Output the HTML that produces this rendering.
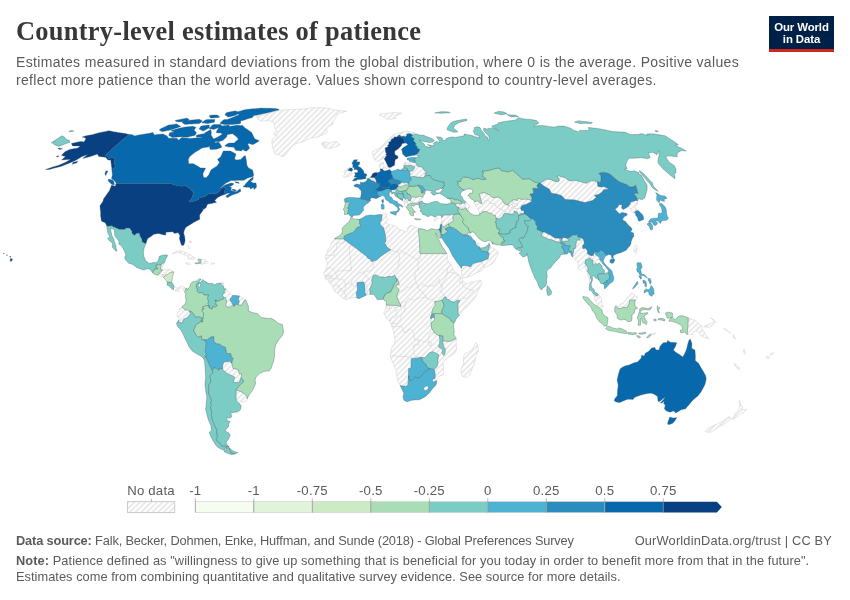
<!DOCTYPE html>
<html><head><meta charset="utf-8"><title>Country-level estimates of patience</title>
<style>
html,body{margin:0;padding:0;background:#fff;}
body{width:850px;height:600px;position:relative;overflow:hidden;font-family:"Liberation Sans",Arial,sans-serif;}
#title{position:absolute;left:16px;top:15px;font-family:"Liberation Serif","DejaVu Serif",serif;font-weight:700;font-size:26.4px;color:#373737;letter-spacing:0.29px;white-space:nowrap;line-height:32px;}
#sub{position:absolute;left:16px;top:52.5px;font-size:14px;letter-spacing:0.33px;line-height:18.2px;color:#5b5b5b;white-space:nowrap;}
#logo{position:absolute;left:769px;top:16px;width:65px;height:33px;background:#002147;border-bottom:3px solid #ce261e;color:#fff;font-weight:700;font-size:11.4px;line-height:12.3px;text-align:center;letter-spacing:-0.1px;}
#logo span{display:block;}
.ft{position:absolute;left:16px;font-size:12.8px;color:#5b5b5b;white-space:nowrap;line-height:15px;}
.ft b{font-weight:700;}
svg{position:absolute;left:0;top:0;}
svg text{font-family:"Liberation Sans",Arial,sans-serif;font-size:13.2px;letter-spacing:0.2px;fill:#5b5b5b;}
</style></head><body>
<div id="title">Country-level estimates of patience</div>
<div id="sub">Estimates measured in standard deviations from the global distribution, where 0 is the average. Positive values<br>reflect more patience than the world average. Values shown correspond to country-level averages.</div>
<div id="logo"><span style="margin-top:4.5px">Our World</span><span>in Data</span></div>
<svg width="850" height="600" viewBox="0 0 850 600">
<defs><pattern id="h" patternUnits="userSpaceOnUse" width="4" height="4" patternTransform="rotate(-45)"><rect width="4" height="4" fill="#fff"/><rect x="0" y="1.35" width="4" height="1.35" fill="#e0e0e0"/></pattern></defs>
<g fill="url(#h)" stroke="#cdcdcd" stroke-width="0.5" stroke-linejoin="round"><path d="M161.6,269.3L161.6,269.4L161.1,269.5L160.4,269.5L160.8,267.1L161.1,264.6L161.2,264.2L163.3,262.8L163.5,262.8L163.2,265.4ZM164.0,262.8L164.5,262.7L164.6,262.6L164.4,263.3L163.5,262.8Z"/><path d="M158.0,275.3L157.8,275.2L157.8,275.1L159.6,273.4L161.5,274.2L163.3,274.7L162.9,276.3L162.9,276.4L161.3,276.6Z"/><path d="M166.5,269.8L170.0,269.5L171.9,270.7L173.8,271.9L171.9,272.1L169.9,272.4L167.6,274.7L165.5,275.0L164.0,277.1L163.5,277.2L163.6,276.3L162.9,276.4L162.9,276.3L163.3,274.7L161.5,274.2L159.6,273.4L160.1,272.1L162.6,270.1L163.1,270.1Z"/><path d="M177.7,288.0L180.0,287.0L181.2,286.0L183.5,286.5L185.9,288.3L184.6,292.2L183.5,290.1L181.1,287.8L179.2,289.4L178.9,292.0L176.4,290.9L173.4,289.7L173.5,289.4L173.4,287.3L174.1,286.0L174.9,287.5Z"/><path d="M255.9,116.7L258.2,116.3L260.5,115.8L262.7,115.3L265.0,114.9L268.2,113.7L271.3,112.5L273.9,111.8L276.4,111.1L278.9,110.4L281.1,110.2L283.3,110.1L285.5,109.9L287.7,109.7L289.9,109.6L292.1,109.4L294.1,109.4L296.0,109.3L298.0,109.2L300.0,109.2L301.9,109.1L304.0,108.8L306.1,108.6L308.2,108.3L310.2,108.0L312.3,107.8L314.1,107.7L315.9,107.7L317.7,107.7L319.5,107.7L321.3,107.6L323.2,107.6L325.0,107.9L327.0,108.2L328.9,108.5L330.8,108.8L332.5,109.3L334.1,109.8L335.8,110.4L337.5,110.5L339.2,110.6L340.9,110.7L342.7,110.9L344.7,111.0L346.8,111.2L344.9,111.7L343.1,112.3L341.2,112.8L339.3,113.4L337.6,114.5L335.9,115.6L336.0,118.1L333.0,121.0L333.1,124.1L331.0,125.1L328.8,126.1L326.4,129.3L327.4,132.5L325.6,133.4L323.7,134.2L320.9,135.6L318.1,136.9L315.8,137.2L313.5,137.5L311.1,137.8L308.1,139.4L305.1,141.1L302.6,141.7L300.1,142.3L297.7,143.0L295.6,143.9L293.6,144.8L291.5,147.1L289.5,149.4L287.1,152.6L284.7,155.8L281.6,156.7L279.5,154.8L277.4,154.5L275.2,154.1L273.8,150.6L272.5,147.1L272.2,144.8L271.8,142.5L272.5,139.1L274.9,137.4L277.3,135.8L275.5,135.2L273.7,134.7L274.2,131.9L277.2,130.8L275.8,129.5L274.5,128.2L274.7,125.1L274.1,123.6L273.5,122.0L272.1,121.6L270.6,121.1L269.2,120.6L267.2,120.7L265.2,120.8L263.2,120.9L261.2,121.0L259.6,120.2L258.0,119.4L257.7,118.1L256.8,117.4Z"/><path d="M172.1,253.9L174.2,252.6L176.3,251.3L178.2,251.0L180.2,250.8L182.4,251.4L184.5,252.1L186.6,253.1L188.8,254.1L192.0,255.7L193.9,257.0L195.8,258.3L193.9,259.1L190.9,259.1L188.0,259.1L189.1,257.3L186.3,255.7L184.5,254.9L182.7,254.1L180.9,253.5L179.0,252.8L177.1,252.1L174.2,253.6Z"/><path d="M201.0,259.6L203.4,259.1L205.3,259.9L206.8,260.9L208.5,262.5L207.0,263.0L203.6,263.5L201.4,264.8L200.9,263.3Z"/><path d="M185.9,263.0L188.9,262.8L190.6,264.1L188.3,264.6L185.9,263.8Z"/><path d="M211.2,262.8L213.0,262.9L214.8,263.0L214.2,264.1L211.0,264.1Z"/><path d="M189.1,247.9L189.2,248.9L188.5,247.6L187.7,246.8L188.3,245.5ZM190.6,241.1L190.9,241.5L191.4,241.9L191.6,242.1L191.3,242.1L190.9,243.2L190.5,242.0L189.4,241.9L188.3,241.4L190.2,241.1L190.0,240.6L190.6,241.1Z"/><path d="M221.7,283.1L223.8,282.8L223.7,284.7L221.7,284.7Z"/><path d="M244.6,300.0L243.2,302.7L241.8,305.3L239.7,305.0L237.9,305.0L239.3,301.9L238.4,299.3L239.4,295.9L242.8,298.0Z"/><path d="M232.1,295.4L232.3,295.4L232.3,295.6L232.0,297.4L230.4,298.5L230.1,300.6L231.7,302.4L233.5,306.0L231.6,305.8L230.0,307.1L227.7,307.6L225.7,305.0L226.2,302.9L226.7,300.8L225.8,299.3L225.6,297.7L224.0,297.4L222.4,295.6L223.2,293.5L225.0,292.5L224.1,291.4L225.8,288.8L229.2,292.7Z"/><path d="M177.3,316.7L177.2,313.6L179.1,311.0L179.3,308.9L182.1,307.3L183.9,308.7L185.3,310.0L187.8,310.0L190.1,311.3L189.4,311.3L190.4,313.6L188.8,315.7L187.2,317.8L184.5,318.8L183.1,319.9L182.5,323.0L180.4,322.5L178.6,322.7L178.7,319.9L179.6,317.5Z"/><path d="M223.9,362.1L226.8,361.7L229.7,361.3L232.1,363.6L232.6,366.1L233.1,368.6L236.0,368.9L238.4,369.9L239.2,373.6L241.6,373.9L241.1,377.8L240.2,380.1L239.2,382.5L237.7,382.7L235.3,382.5L233.0,382.2L233.7,380.6L234.6,377.0L232.0,375.7L229.2,374.4L226.5,373.1L224.5,371.1L222.4,369.0L222.6,366.9L222.8,364.7Z"/><path d="M244.1,402.0L241.5,402.0L239.6,401.4L237.8,400.7L236.3,399.7L236.1,397.6L235.9,395.5L236.1,392.6L236.3,389.8L238.2,390.5L240.1,391.3L241.0,391.6L243.4,393.2L245.5,394.7L247.0,396.3L247.0,398.9L246.1,401.0Z"/><path d="M370.3,177.6L372.1,177.6L373.5,177.3L375.3,178.3L374.9,179.1L375.5,179.1L376.2,180.3L375.8,180.9L376.6,181.6L376.4,182.4L375.2,182.4L373.2,180.7L372.0,181.1L370.0,179.3L368.6,178.3Z"/><path d="M404.1,162.8L406.1,161.9L407.4,163.5L409.0,163.7L409.4,161.6L411.0,161.3L413.5,162.5L415.1,162.4L416.0,163.0L417.2,165.8L415.9,166.4L414.5,166.9L412.6,165.9L410.9,165.2L409.5,165.6L407.4,165.4L405.4,165.2L403.7,166.0L403.5,165.0Z"/><path d="M383.2,157.7L383.3,156.7L382.5,158.9L380.4,160.3L378.6,161.1L376.7,161.3L374.0,158.9L372.9,155.5L372.7,152.9L372.8,151.3L374.7,150.6L377.0,149.2L379.6,147.8L381.2,146.4L383.4,144.8L385.2,142.5L386.7,141.0L388.2,139.6L389.8,137.5L391.3,136.4L393.2,135.3L395.0,134.2L396.7,133.8L398.3,133.4L400.4,132.7L402.5,132.1L404.1,131.6L405.8,131.2L407.6,131.3L409.4,131.4L412.0,132.1L414.7,132.7L413.1,133.2L411.6,133.6L413.4,134.2L414.7,134.0L413.6,134.7L412.0,135.7L412.4,134.7L409.7,133.4L408.3,133.8L406.8,134.2L406.8,135.6L405.7,136.7L403.4,136.3L401.2,136.4L399.7,135.1L398.0,135.7L397.3,137.1L395.7,137.0L394.1,136.9L394.0,138.2L391.5,139.1L391.2,140.2L390.2,141.8L388.7,142.3L389.1,144.1L387.5,145.7L388.5,146.6L386.8,147.3L385.1,148.0L385.4,149.4L385.7,152.5L386.9,153.4L385.8,154.1L386.7,155.5L385.4,157.0L385.2,157.7L384.6,158.2L384.3,158.4L384.3,158.6L384.2,158.7Z"/><path d="M384.2,168.4L382.8,168.4L382.7,168.2L382.1,168.9L382.3,169.1L381.9,169.1L380.3,168.9L380.3,169.1L380.4,168.9L379.5,167.4L379.0,165.0L379.8,163.5L381.7,162.8L383.5,162.0L383.3,164.7L384.3,165.2L383.2,167.4L384.1,167.4ZM386.9,168.6L385.1,168.1L385.0,166.9L386.9,165.9L387.7,166.9Z"/><path d="M394.3,189.7L396.5,189.0L397.4,190.0L395.8,190.8L395.7,191.8L395.1,192.5L393.6,192.3L391.6,192.7L391.5,192.7L392.0,192.3L391.5,191.5L391.1,190.8L391.6,190.0Z"/><path d="M409.0,183.4L408.4,185.2L407.0,184.9L405.0,184.9L403.1,185.7L401.7,186.7L399.7,186.8L398.3,186.2L397.9,184.6L399.9,183.9L401.3,182.4L402.7,182.1L403.8,183.1L405.8,182.6L408.9,183.4L409.0,183.3Z"/><path d="M421.2,200.3L422.4,201.5L420.9,201.3L418.9,202.3L417.0,203.5L415.2,203.0L413.6,203.1L411.9,203.2L412.0,202.1L410.5,200.8L410.6,199.2L411.6,198.5L410.1,196.4L410.7,195.9L411.4,196.9L414.6,197.2L416.7,197.3L419.6,196.1L421.4,196.6L423.1,197.0L422.0,198.5Z"/><path d="M413.0,170.6L413.2,169.6L414.6,167.9L414.5,166.9L415.9,166.4L417.2,165.8L419.8,166.7L422.7,167.2L423.4,169.4L427.0,172.8L424.8,173.3L426.2,175.8L424.4,175.8L424.0,177.8L421.0,177.3L419.2,177.2L417.4,177.1L415.1,176.7L412.9,176.3L410.3,177.3L410.1,175.8L409.6,175.6L409.6,175.0L410.4,174.3L409.2,171.3L411.0,171.3Z"/><path d="M402.6,198.5L403.6,197.7L406.0,199.4L405.6,200.1L404.6,200.1L404.3,201.9L402.4,200.5L402.4,200.6L402.5,200.5L402.3,200.0L402.4,199.5Z"/><path d="M408.3,199.4L408.9,200.9L407.9,201.0L406.9,201.8L405.6,200.1L406.0,199.4L407.0,198.3Z"/><path d="M408.9,200.9L410.5,200.8L412.0,202.1L411.9,203.2L409.9,203.9L408.0,204.5L406.8,203.4L406.9,201.8L407.9,201.0Z"/><path d="M404.5,203.4L404.4,201.9L404.3,201.9L404.6,200.1L405.6,200.1L406.9,201.8L406.8,203.4L408.0,204.5L407.5,205.9L406.7,206.7L406.1,207.5L404.7,205.7Z"/><path d="M349.9,167.9L349.6,168.4L348.9,169.4L347.8,170.0L348.9,170.7L350.0,170.9L351.4,170.9L351.9,171.0L351.8,171.3L351.9,173.8L351.0,175.6L349.2,176.1L347.4,176.6L345.8,177.0L344.2,177.3L343.3,175.8L345.0,174.3L344.1,172.3L344.3,170.4L347.2,170.1L347.1,168.6L349.6,167.9Z"/><path d="M321.3,143.4L323.1,142.5L324.8,141.6L326.6,142.3L328.4,143.0L330.4,142.5L332.5,142.0L334.3,141.7L336.0,141.4L338.3,143.0L339.8,144.8L337.2,146.4L335.0,147.1L332.9,147.8L330.7,148.5L328.9,148.2L327.2,148.0L325.3,147.7L323.4,147.3L324.9,145.9L323.2,145.5L321.6,145.0L323.4,144.6L325.2,144.1L323.3,143.7Z"/><path d="M379.5,114.3L381.6,113.9L383.6,113.4L385.5,113.3L387.4,113.2L389.3,113.1L391.1,112.9L393.0,112.7L394.8,112.5L396.6,112.7L398.5,112.8L400.3,112.9L402.1,113.1L400.9,113.8L399.7,114.5L398.0,115.0L396.2,115.5L394.4,116.0L396.4,117.9L394.5,118.4L392.6,118.9L390.8,119.4L388.5,119.2L386.2,119.0L384.3,117.1L382.4,116.5L380.5,116.0Z"/><path d="M433.7,219.7L435.2,218.9L438.3,218.0L437.4,219.7L435.4,220.8L434.1,220.5Z"/><path d="M460.0,204.6L461.2,206.2L460.6,207.8L462.6,208.0L462.9,209.6L460.7,209.3L458.9,207.5L456.3,206.5L455.6,203.9L458.5,203.4Z"/><path d="M468.3,204.9L470.2,205.7L468.6,208.5L468.0,209.8L468.2,210.7L466.1,209.8L466.5,208.3L465.2,207.5L462.9,209.6L462.6,208.0L460.6,207.8L461.2,206.2L460.0,204.6L458.5,203.4L461.8,204.0L462.1,203.4L460.9,202.6L461.1,201.8L464.5,203.6L465.8,201.9L466.9,203.1Z"/><path d="M441.5,221.3L441.9,220.6L442.8,220.8L443.3,221.8L441.9,224.2L441.4,224.3L440.4,224.7L441.0,222.6Z"/><path d="M441.3,217.4L442.9,216.5L442.5,215.0L445.5,215.0L447.7,215.0L449.8,215.0L452.3,214.6L454.9,214.3L452.8,216.1L453.0,218.2L453.2,220.2L452.9,221.3L450.6,222.6L448.4,223.9L446.4,225.3L444.4,226.8L441.6,225.7L441.9,224.2L443.3,221.8L442.8,220.8L441.9,220.6L441.2,218.4Z"/><path d="M471.1,236.7L469.6,236.5L469.0,235.4L466.8,235.1L468.4,232.5L469.8,232.8L470.0,234.3Z"/><path d="M478.1,242.9L479.2,245.0L479.4,246.8L478.5,246.8L477.5,246.3L477.3,244.5Z"/><path d="M498.3,252.3L497.7,255.2L495.9,257.8L494.6,261.4L491.9,264.1L489.3,265.4L486.6,266.7L484.4,267.6L482.9,264.5L481.5,261.4L484.8,260.1L488.1,258.8L488.6,256.2L489.2,253.6L487.9,251.8L488.9,248.4L489.4,248.1L488.7,246.1L490.1,246.1L490.1,245.9L490.9,247.4L493.1,248.4L495.3,249.5ZM496.6,244.8L495.7,244.8L493.0,244.2L491.8,242.5L494.2,243.7ZM489.0,243.6L489.6,242.4L489.8,244.2L489.2,244.0Z"/><path d="M479.9,271.4L477.8,272.3L475.7,273.2L473.9,274.4L472.1,275.5L469.3,276.6L466.5,277.6L463.1,277.9L462.3,276.3L461.5,272.4L461.3,270.3L461.0,268.2L461.9,267.4L462.2,265.4L464.3,265.5L466.3,265.6L468.4,266.2L470.5,266.8L473.0,263.5L475.8,262.8L478.6,262.1L481.5,261.4L482.9,264.5L484.4,267.6L482.6,270.3Z"/><path d="M558.4,242.1L555.2,241.6L552.2,239.8L549.2,239.5L546.5,238.2L543.8,236.9L541.4,235.9L542.6,232.2L544.8,232.0L547.4,233.8L550.1,234.8L552.6,236.4L554.9,238.0L556.9,238.0L559.7,238.2L560.4,242.1Z"/><path d="M566.7,241.1L564.1,241.4L562.3,241.1L561.8,239.8L562.8,237.5L564.7,237.7L567.7,238.5L569.1,241.0Z"/><path d="M546.5,179.1L548.9,179.3L551.3,179.6L553.6,181.1L556.0,181.4L558.5,181.7L559.5,179.8L557.3,176.1L558.3,175.8L560.9,176.5L563.5,177.2L566.0,177.8L567.1,179.6L570.8,180.9L573.0,180.6L575.1,180.3L577.3,180.9L579.5,181.4L582.9,182.3L586.2,183.3L587.9,182.4L589.6,181.5L591.2,180.6L594.2,181.0L597.2,181.5L597.5,184.1L598.0,186.4L600.0,186.7L602.0,186.9L603.9,186.4L608.0,188.5L608.4,189.5L606.0,189.6L603.6,189.7L602.1,192.0L600.3,193.3L598.5,194.5L596.5,194.9L594.4,195.4L596.4,197.2L594.6,198.8L592.7,200.5L590.0,201.2L587.4,201.9L584.7,202.6L581.3,201.7L577.9,200.8L574.6,199.9L571.5,199.8L568.4,199.7L565.3,199.6L563.3,197.6L561.4,195.6L559.1,194.9L556.8,194.1L554.0,193.7L551.3,193.3L550.2,191.1L549.1,189.0L546.4,187.4L543.7,185.9L540.1,183.1L541.6,182.2L543.1,181.4L544.8,180.2Z"/><path d="M637.8,204.6L636.6,205.7L635.4,206.7L634.6,207.2L635.2,208.8L638.1,210.4L635.7,211.1L635.4,212.2L634.3,212.7L631.7,212.2L630.8,211.7L631.3,210.1L629.7,208.0L627.6,207.0L628.8,205.7L629.9,204.4L630.5,202.1L632.7,201.5L634.1,201.0L635.5,200.5L637.4,200.5L637.7,200.8L637.6,204.1Z"/><path d="M478.0,209.3L476.1,206.7L475.1,204.5L474.0,202.2L474.6,202.1L474.6,201.9L477.1,200.8L478.9,201.5L480.5,203.4L481.7,203.4L483.8,203.4L485.1,200.3L487.2,200.3L489.5,201.0L490.3,203.1L492.2,203.4L494.2,203.6L496.3,206.7L498.8,208.1L501.3,209.6L503.7,210.7L506.2,211.9L506.6,213.6L504.8,213.2L503.2,214.8L502.9,216.3L500.1,218.4L498.7,218.9L496.2,218.2L495.4,215.4L493.9,215.4L491.0,213.2L489.0,213.0L486.1,211.4L484.5,211.7L482.3,211.7L481.4,213.5L479.5,213.6L479.2,211.9Z"/><path d="M508.3,208.0L509.1,206.2L510.2,204.9L512.3,204.1L513.3,206.2L511.1,208.0L513.6,207.8L516.6,208.5L518.5,208.3L520.5,208.1L521.4,210.4L524.0,210.6L524.0,213.5L521.1,213.3L518.7,215.1L518.4,215.2L518.4,215.3L517.2,212.2L514.0,210.9L514.4,213.0L513.0,214.1L511.2,214.1L509.5,214.0L510.1,211.4Z"/><path d="M513.6,207.8L511.1,208.0L513.3,206.2L515.7,206.2L518.0,204.6L516.0,203.9L513.8,203.6L512.4,200.9L512.3,200.3L513.8,199.5L515.7,200.0L517.7,200.5L517.1,199.0L518.6,198.5L521.9,199.5L524.5,199.1L526.9,199.3L529.2,199.5L532.0,201.4L530.4,202.3L528.8,203.1L527.4,203.7L525.9,204.4L524.0,204.9L522.0,205.4L520.5,208.1L518.5,208.3L516.6,208.5Z"/><path d="M509.1,213.9L506.6,213.6L506.2,211.9L503.7,210.7L501.3,209.6L498.8,208.1L496.3,206.7L494.2,203.6L492.2,203.4L490.3,203.1L489.5,201.0L487.2,200.3L485.1,200.3L483.8,203.4L481.7,203.4L480.9,200.2L480.1,197.0L479.2,193.8L481.6,193.1L484.0,192.4L487.1,193.9L490.2,195.4L492.7,197.7L495.7,197.4L498.6,197.2L501.7,199.0L503.0,201.4L504.4,203.7L506.6,204.5L508.8,205.2L507.4,204.6L509.1,203.4L511.4,201.3L512.4,200.9L513.8,203.6L516.0,203.9L518.0,204.6L515.7,206.2L513.3,206.2L512.3,204.1L510.2,204.9L509.1,206.2L508.3,208.0L510.1,211.4L509.6,213.7Z"/><path d="M593.3,255.7L593.8,252.6L595.8,254.7L598.4,256.8L600.1,257.8L599.3,259.6L602.1,261.7L602.1,263.0L605.8,266.7L608.4,270.3L608.9,272.7L606.6,272.9L605.6,273.6L603.8,273.7L604.4,273.4L604.2,270.3L602.1,268.2L601.5,265.4L599.4,263.3L597.2,264.2L595.3,263.5L593.3,265.4L592.9,264.1L593.0,260.1L591.2,260.1L590.0,257.9L591.1,257.8L592.1,255.7L591.9,254.8Z"/><path d="M589.2,278.7L588.4,276.6L587.6,274.5L586.6,271.1L585.7,268.0L584.0,266.7L582.7,267.7L580.7,269.8L578.4,269.5L578.1,269.3L578.3,265.4L577.5,262.2L573.8,258.6L572.2,257.0L572.9,255.4L572.4,253.7L573.5,253.1L573.8,250.8L573.2,248.4L575.0,248.7L576.0,246.6L575.6,245.3L576.3,243.2L576.1,241.4L578.0,239.8L580.2,240.3L579.9,237.3L583.5,239.3L584.0,241.4L584.4,243.5L582.6,245.8L582.9,248.7L585.5,248.1L587.6,251.0L587.3,253.4L589.5,254.9L592.1,255.7L591.1,257.8L590.0,257.9L588.7,258.6L587.5,259.4L585.5,259.9L585.5,262.8L584.6,262.8L586.1,265.0L587.7,267.2L588.1,269.0L587.5,271.4L590.0,275.0L590.5,278.1L591.6,280.2L590.1,283.4L589.7,284.6L589.5,281.7Z"/><path d="M598.8,294.8L601.5,298.0L601.6,301.1L601.9,304.0L603.6,307.3L602.7,307.6L601.8,307.3L599.0,305.3L596.8,303.2L595.3,300.0L594.3,296.9L593.7,294.2L595.6,294.6L596.1,296.1L597.7,295.9L598.3,294.7Z"/><path d="M635.8,245.0L637.0,246.3L636.9,248.4L636.7,250.5L636.0,253.9L633.9,251.0L633.8,248.4L634.8,245.8Z"/><path d="M619.7,306.6L620.1,304.2L621.9,303.4L623.8,302.7L625.9,299.0L629.2,296.4L631.8,292.7L634.2,294.3L634.3,295.6L637.8,297.2L635.6,299.8L635.5,300.0L634.2,300.0L631.9,300.0L629.6,300.0L629.5,302.7L628.4,304.5L627.6,307.1L625.5,307.6L622.7,307.1L621.1,308.4L618.1,308.7L616.0,306.3L616.0,305.8L617.9,306.2Z"/><path d="M699.0,323.8L700.9,325.2L702.8,326.6L702.0,328.5L704.0,331.9L705.8,334.7L707.5,337.6L709.0,338.6L706.8,338.1L704.5,337.6L702.7,336.7L700.8,335.8L698.9,331.9L695.6,330.8L692.7,332.6L692.7,334.5L689.9,334.6L687.2,334.7L687.5,331.3L687.7,328.0L688.0,324.6L688.1,321.2L688.3,317.8L690.9,318.8L693.6,319.9L696.2,320.9ZM713.9,322.0L714.0,323.8L712.0,325.6L708.5,327.4L706.6,327.3L704.8,327.2L704.7,325.9L706.9,325.0L709.2,324.0L711.5,323.0ZM715.9,322.7L715.0,322.2L712.4,319.3L710.6,317.8L712.4,319.0L714.2,320.1Z"/><path d="M650.3,334.2L653.1,333.6L655.9,332.9L655.1,333.7L652.9,334.6L650.6,335.5Z"/><path d="M735.6,338.9L733.4,337.6L733.2,336.0L734.1,336.3ZM733.6,336.0L733.2,335.9L733.1,334.6ZM727.7,330.8L730.5,333.2L728.8,331.9L725.5,330.0L723.4,328.2L725.1,329.0Z"/><path d="M743.7,349.3L744.9,350.1L744.7,352.2L745.5,353.8L744.6,354.0L743.5,351.4Z"/><path d="M734.6,363.4L737.5,365.8L740.0,368.9L738.6,369.2L736.0,367.1L734.4,364.5Z"/><path d="M769.2,356.6L769.0,358.5L766.2,358.5L766.5,356.4ZM773.6,352.7L773.0,354.3L770.3,355.1L770.6,353.5Z"/><path d="M729.0,418.4L731.4,418.1L730.0,419.9L725.4,423.0L722.9,425.1L718.8,426.4L714.6,430.2L710.2,432.3L707.7,432.3L706.5,431.8L705.3,431.2L706.5,429.5L712.1,426.1L715.2,424.8L718.3,423.5L723.1,421.0L726.9,417.9L729.3,416.6ZM740.4,402.3L741.0,404.9L741.6,406.4L742.7,406.7L741.8,408.8L744.3,409.8L746.8,409.3L743.4,412.7L740.4,414.0L738.4,416.1L732.7,419.4L732.0,418.6L734.8,416.1L734.0,414.0L736.5,412.4L739.2,408.8L739.6,406.2L739.0,402.8L739.6,400.7Z"/><path d="M432.5,317.1L433.8,317.3L434.5,319.6L432.9,321.7L431.9,322.6L431.0,322.5L430.8,319.6L430.4,318.3L431.8,318.6Z"/><path d="M427.7,389.2L425.8,390.8L424.1,390.0L423.4,388.2L425.1,386.4L427.1,385.6L428.7,387.7Z"/><path d="M433.4,382.2L432.4,380.6L433.4,378.3L435.0,378.5L435.2,380.9Z"/><path d="M476.4,342.3L477.4,344.9L478.2,347.5L478.7,351.4L477.0,352.7L476.1,356.6L475.3,359.9L474.5,363.2L473.1,366.4L471.7,369.7L470.6,372.7L469.5,375.7L467.5,376.6L465.5,377.5L462.2,376.2L461.2,372.3L461.2,368.4L462.5,366.2L463.8,363.9L463.6,361.6L463.4,359.2L463.9,356.6L464.4,354.0L466.4,353.1L468.4,352.2L472.0,349.6L474.0,346.2L475.2,343.6Z"/><path d="M433.6,313.9L431.8,314.5L433.9,313.6ZM387.3,214.5L385.8,215.3L386.5,216.1L386.8,217.6L387.7,219.2L387.1,220.5L385.6,222.6L387.9,224.4L388.8,224.7L390.6,224.9L392.5,225.2L394.7,225.8L396.9,226.5L398.2,229.1L400.2,229.8L402.2,230.4L405.6,232.0L407.7,230.7L407.7,227.3L410.7,225.2L413.1,225.5L414.5,227.0L416.3,227.3L418.8,228.6L418.2,232.2L419.0,234.6L419.2,238.4L419.5,242.2L419.7,246.0L419.8,249.8L420.0,253.6L423.3,253.6L426.7,253.6L430.0,253.6L433.4,253.6L436.7,253.6L440.1,253.6L443.5,253.6L446.8,253.6L447.3,256.8L447.8,259.9L448.7,262.8L451.0,264.1L452.3,267.2L453.6,270.3L455.1,271.9L457.6,273.2L461.2,277.1L462.2,277.9L462.8,280.7L462.5,281.0L464.6,282.4L466.8,283.9L469.0,283.0L471.3,282.1L473.6,281.8L475.8,281.5L477.9,280.7L479.9,280.0L481.0,280.2L481.4,283.9L480.2,286.7L478.4,290.1L477.4,292.7L476.3,295.4L474.1,299.3L471.0,302.5L467.9,305.8L465.0,308.4L461.5,312.0L459.4,315.4L458.0,313.3L458.1,311.0L458.0,307.3L458.0,303.7L460.0,300.7L457.5,300.0L454.5,302.1L451.3,301.6L448.5,299.5L446.2,299.0L446.2,297.2L444.8,296.9L441.8,300.0L439.6,300.8L437.3,301.6L435.0,301.1L434.5,301.9L435.4,305.3L433.8,307.1L432.5,309.4L431.8,312.6L431.8,314.5L431.1,315.2L430.6,317.0L430.4,318.3L430.8,319.6L431.0,322.5L431.3,325.2L431.6,328.0L432.9,330.2L434.2,332.4L437.0,334.7L439.1,335.5L439.9,339.2L439.7,341.4L439.6,343.6L438.3,346.5L439.4,347.5L441.9,348.6L442.5,350.9L441.7,352.7L443.9,355.6L445.1,352.7L445.3,349.1L443.4,346.2L442.8,342.3L442.8,341.0L445.6,341.0L447.5,341.3L449.5,341.5L451.8,340.5L454.0,339.4L456.2,338.4L456.2,341.6L456.2,344.9L456.5,347.1L456.7,349.3L454.7,353.3L451.1,355.5L447.6,357.7L445.2,360.3L442.6,362.6L443.3,365.8L443.7,368.4L443.5,370.9L443.4,373.3L442.8,374.9L440.7,375.8L438.7,376.7L436.5,378.8L437.0,381.2L435.2,380.9L435.0,378.5L435.1,376.5L435.2,374.4L434.7,371.9L434.1,369.4L437.0,366.6L438.0,363.2L437.7,360.3L438.6,356.6L438.5,354.6L436.7,353.6L434.9,352.7L432.9,351.7L429.4,352.7L427.2,355.3L424.9,357.8L423.0,357.6L421.1,357.4L419.2,357.7L416.7,358.2L414.0,358.5L411.3,358.7L411.2,361.9L411.1,365.2L411.0,368.4L408.7,368.4L408.6,372.0L408.5,375.7L408.3,378.8L408.2,381.9L408.0,385.1L405.8,386.4L404.0,386.1L402.2,385.9L400.2,385.6L398.9,383.0L397.5,380.4L396.9,377.0L396.2,373.6L396.2,370.7L395.1,368.0L393.9,365.2L392.4,361.6L390.8,357.9L390.4,356.1L390.7,353.8L391.0,351.4L391.6,348.8L392.2,346.2L394.3,343.9L394.7,341.8L395.2,339.7L394.6,336.8L393.9,334.0L393.5,331.6L393.0,329.3L391.7,326.6L391.7,325.3L390.8,323.0L389.1,321.2L385.7,317.3L384.3,313.6L383.6,312.8L385.3,310.0L385.7,308.4L386.2,305.0L389.6,305.3L391.9,305.3L394.2,305.3L397.0,305.4L398.8,306.0L400.7,306.6L400.7,305.0L399.4,302.5L398.1,300.0L397.0,297.2L397.2,294.3L399.0,290.9L398.5,289.1L395.7,286.0L396.2,284.9L399.1,284.9L398.7,282.3L397.7,279.2L396.1,278.4L395.8,276.8L394.7,275.3L391.7,276.8L389.9,276.6L388.1,276.3L385.3,277.5L381.9,277.1L379.1,276.8L375.9,274.7L373.0,275.8L372.1,278.4L371.8,280.5L372.3,283.1L371.1,286.0L369.8,288.8L370.0,292.7L369.8,294.3L367.3,294.8L366.4,295.1L365.0,293.0L364.7,291.7L365.2,289.4L364.5,288.0L364.7,284.9L363.6,282.1L362.5,282.1L359.7,282.3L357.0,282.6L357.2,286.0L357.6,289.6L356.2,293.3L356.9,296.4L356.5,297.7L354.4,297.2L352.1,297.8L349.8,298.5L346.3,299.5L342.9,298.0L340.8,296.3L338.8,294.6L337.2,293.0L334.9,291.7L333.3,288.8L333.1,287.5L332.2,286.2L330.4,283.9L329.2,282.3L327.9,280.0L325.4,278.9L325.2,276.8L324.4,274.7L323.7,272.7L326.0,269.3L326.6,266.5L327.3,263.8L326.2,260.1L325.2,256.8L327.1,252.8L327.9,249.2L330.2,246.6L331.2,242.9L333.7,240.3L334.7,238.8L334.6,238.8L337.8,238.8L341.0,238.8L344.2,238.8L344.2,239.8L347.1,241.8L349.9,243.8L352.8,245.8L356.2,248.3L359.5,250.9L362.9,253.4L366.3,256.0L367.7,258.1L370.8,259.4L371.1,261.4L373.2,261.1L375.0,260.6L376.7,260.1L378.6,258.3L380.5,256.5L383.9,254.2L387.2,252.0L390.6,249.7L388.6,248.3L386.7,246.8L385.7,244.8L384.6,242.7L385.7,241.9L385.7,239.3L385.6,236.7L385.1,234.4L384.6,232.1L384.0,229.8L383.4,227.5L381.8,226.2L380.2,224.2L380.0,222.3L381.6,220.5L381.6,218.9L381.9,216.9L382.1,214.8L384.7,213.7Z"/></g>
<g fill="none" stroke="#cdcdcd" stroke-width="0.5" stroke-linejoin="round"><path d="M344.2,238.8L341.0,238.8L337.8,238.8L334.6,238.8"/><path d="M344.2,239.8L344.1,243.2L341.7,243.2L339.2,243.2L336.8,243.2L336.7,246.5L336.6,249.8L334.3,251.0L334.2,253.2L334.0,255.4L331.1,255.4L328.2,255.4L325.2,255.4"/><path d="M352.8,245.8L351.0,245.9L349.1,245.9L349.5,249.7L349.8,253.4L350.1,257.2L350.4,260.9L350.8,264.7L351.1,268.4L351.5,268.7L351.1,270.6L348.0,270.6L344.9,270.6L341.8,270.6L340.6,271.1L337.7,270.8L336.7,272.4L335.8,272.9"/><path d="M335.8,272.9L334.4,271.1L333.1,269.3L331.5,268.5L330.4,267.7L328.1,268.2L327.0,268.0L326.0,269.3"/><path d="M335.8,272.9L336.0,274.5L337.3,276.8L337.3,278.7"/><path d="M337.3,278.7L335.0,278.9L332.3,278.1L330.2,278.1L328.1,278.1L325.4,278.9"/><path d="M325.2,275.5L327.2,275.3L329.1,275.0L332.1,275.8L329.3,276.6L327.3,276.7L325.2,276.8"/><path d="M332.3,278.1L332.2,280.5L329.9,281.0L329.2,282.3"/><path d="M337.3,278.7L340.2,280.2L342.3,278.9L344.4,281.3L345.3,284.4"/><path d="M333.1,287.5L335.2,285.3L338.1,284.9L339.3,286.7L340.0,289.1L337.2,293.0"/><path d="M340.0,289.1L342.0,288.8L342.0,291.4L344.3,290.9L345.7,288.6L345.5,286.5L345.3,284.4"/><path d="M344.3,290.9L344.3,293.0L346.1,296.1L346.3,299.5"/><path d="M345.3,284.4L347.3,284.0L349.4,283.6L351.0,283.9L353.7,286.0L357.2,286.0"/><path d="M363.6,282.1L365.7,282.3L365.4,284.1L366.8,286.7L367.0,289.9L367.3,293.0L367.3,294.8"/><path d="M365.7,282.3L366.8,281.0L368.6,280.0L369.1,279.2L371.8,280.5"/><path d="M351.0,283.9L351.7,281.3L353.5,278.4L356.5,275.8L359.0,273.2L362.5,271.9L364.1,272.1L364.5,274.5L365.9,276.3L368.6,278.1L369.1,279.2"/><path d="M364.1,272.1L366.8,271.1L369.2,270.8L371.6,270.6L373.2,267.2L373.2,264.1L373.2,261.1"/><path d="M394.7,275.3L394.4,273.4L396.6,270.2L398.9,266.9L398.3,264.3L399.0,261.1L399.6,257.8L398.5,254.4L397.4,251.0L395.6,252.1L393.1,250.9L390.6,249.7"/><path d="M384.6,232.1L386.1,230.7L386.3,228.3L388.8,226.5L388.8,224.7"/><path d="M420.0,253.6L420.1,256.2L420.2,258.8L417.9,258.8L418.0,260.1L414.9,258.4L411.8,256.7L408.7,255.0L405.7,253.3L402.6,251.6L399.6,249.8L397.4,251.0"/><path d="M418.0,260.1L418.1,263.4L418.2,266.8L418.3,270.1L415.8,270.6L415.2,273.3L414.6,276.1L415.3,279.2L416.1,282.4"/><path d="M394.7,275.3L395.8,276.8L396.1,278.4"/><path d="M399.0,290.9L402.0,291.2L404.9,290.1L407.2,287.5L410.2,287.3L413.3,283.6L416.1,282.4L417.7,285.2L417.5,288.0L419.4,289.4L421.3,290.7L423.9,294.0L426.6,297.4"/><path d="M426.6,297.4L424.2,297.6L421.8,297.7L418.9,298.2L416.1,298.7L415.2,300.3L413.0,299.9L410.8,299.5L408.5,298.0L406.4,301.9L404.1,301.9L401.8,301.9L400.9,305.3L400.7,306.6"/><path d="M406.4,301.9L405.1,305.0L404.8,307.6L404.6,310.2L403.9,312.8L401.4,315.4L400.8,317.8L400.2,320.1L398.6,322.2L396.7,323.8L393.7,323.0L393.1,322.5L391.2,324.0"/><path d="M393.1,322.5L392.4,324.6L391.7,326.1"/><path d="M394.2,305.3L394.2,307.6L396.3,307.6L397.0,309.4L395.6,311.0L397.0,312.6L396.8,316.0L395.6,317.3L392.4,317.0L390.3,318.3L391.0,320.4L389.1,321.2"/><path d="M389.6,305.3L389.6,308.4L387.7,308.4L385.7,308.4"/><path d="M417.5,288.0L420.5,285.4L422.7,283.9L424.9,286.2L427.8,286.5L431.3,285.4L434.2,285.7L436.0,283.1L437.8,280.5L439.6,279.2L439.7,283.1L441.6,286.2L441.9,288.6"/><path d="M441.9,288.6L442.1,286.0L442.2,283.4L444.0,280.7L445.7,278.1L446.3,275.9L446.9,273.7L447.3,271.1L447.6,268.5L449.3,266.3L451.0,264.1"/><path d="M446.9,273.7L450.1,272.1L452.8,272.9L454.9,273.6L457.0,274.2L458.8,276.3L460.6,278.4L462.2,277.9"/><path d="M460.6,278.4L459.4,282.3L461.9,282.4L462.7,281.1"/><path d="M461.9,282.4L463.4,286.2L464.8,287.7L468.2,288.9L471.5,290.1L473.8,290.1L471.6,292.8L469.4,295.4L467.1,298.1L463.9,298.2L462.1,299.1L460.3,300.0L460.0,300.7"/><path d="M441.9,288.6L439.4,290.7L441.4,292.1L443.4,293.5L444.8,296.9"/><path d="M426.6,297.4L429.0,299.8L431.9,299.0L434.5,301.9"/><path d="M431.0,322.5L431.3,325.2L431.6,328.0L432.9,330.2L434.2,332.4"/><path d="M434.2,332.4L432.1,332.8L430.0,333.2L428.8,335.3L428.7,338.5L428.6,341.8L431.8,342.8L431.7,345.9L429.9,345.9L428.6,343.6L425.9,341.3L423.1,342.0L421.8,340.5L419.7,340.7L418.4,339.4"/><path d="M418.4,339.4L416.5,339.8L414.7,340.2L414.1,336.8L413.9,334.3L413.7,331.9L410.7,329.3L408.4,329.3L407.2,331.9L403.8,332.1L402.8,329.3L401.8,326.4L399.3,326.4L396.9,326.4L394.4,326.4L391.9,326.6"/><path d="M418.4,339.4L418.6,339.7L418.5,342.3L418.5,344.9L416.2,344.9L413.9,344.9L413.8,347.7L413.8,350.5L413.7,353.3L416.8,356.9L418.6,356.6L421.1,357.4"/><path d="M390.4,356.1L392.4,355.7L394.3,355.3L395.4,356.4L398.8,356.4L402.1,356.4L405.4,356.4L408.8,357.0L412.2,357.7L414.5,357.3L416.8,356.9"/><path d="M432.9,351.7L432.5,350.1L434.8,349.3L437.1,348.4L439.4,347.5"/><path d="M442.8,341.0L445.6,341.0L447.5,341.3L449.5,341.5L451.8,340.5L454.0,339.4L456.2,338.4"/><path d="M408.0,385.1L408.2,381.9L408.3,378.8L408.5,375.7"/><path d="M434.1,369.4L434.7,371.9L435.2,374.4L435.1,376.5L435.0,378.5"/></g>
<g stroke="#3b5566" stroke-opacity="0.75" stroke-width="0.45" stroke-linejoin="round"><path fill="#084081" d="M218.0,197.2L215.7,199.5L214.7,200.8L216.4,202.1L216.2,202.6L214.0,202.8L211.8,203.4L209.8,203.7L207.9,204.1L207.0,205.2L206.2,207.5L203.7,209.6L202.8,208.3L203.0,210.4L201.7,212.2L199.9,214.5L199.6,215.6L199.8,219.2L197.3,220.5L193.5,222.6L190.9,224.2L188.3,225.7L185.7,227.5L184.0,230.9L183.7,233.3L184.7,236.7L185.1,240.6L184.4,243.7L183.5,245.3L181.8,245.5L180.7,242.9L180.1,240.8L179.4,238.8L179.9,235.4L178.3,232.8L177.2,232.8L174.8,233.5L172.5,231.7L169.2,232.0L165.8,232.2L165.8,235.1L162.9,234.8L160.9,234.1L157.7,233.5L155.7,233.9L153.8,234.3L151.6,235.9L147.7,238.5L146.8,240.8L146.0,243.2L145.9,243.4L145.5,243.5L143.8,242.8L142.2,242.1L141.9,239.3L140.3,236.7L139.2,233.3L136.2,233.5L134.7,235.4L132.2,233.8L131.8,231.2L129.5,228.1L127.6,228.1L125.7,228.1L125.3,229.4L122.2,229.4L119.2,229.4L116.7,228.3L114.3,227.3L111.9,226.2L112.3,225.7L109.5,226.0L106.8,226.2L106.8,225.7L105.2,222.8L103.3,221.9L101.4,221.0L101.0,218.3L100.6,215.6L100.7,212.4L100.4,210.2L100.1,208.0L100.0,205.7L101.4,203.6L102.9,201.5L103.5,199.0L105.5,196.2L107.4,193.5L109.4,190.8L110.5,187.9L111.5,185.2L113.4,185.7L115.3,186.2L116.0,183.6L118.9,183.6L121.9,183.6L124.8,183.6L127.7,183.6L130.7,183.6L133.6,183.6L136.6,183.6L139.5,183.6L142.5,183.6L145.4,183.6L148.4,183.6L151.3,183.6L154.3,183.6L157.2,183.6L160.2,183.6L163.1,183.6L166.0,183.6L169.0,183.6L171.9,183.6L172.8,184.4L175.1,185.0L177.4,185.7L179.8,185.9L182.2,186.2L184.8,185.4L186.7,186.6L188.6,187.8L190.5,189.0L190.9,190.0L192.2,191.3L193.6,193.1L192.5,196.0L191.5,199.0L189.2,201.0L190.0,202.3L192.8,201.4L195.6,200.4L198.4,199.5L198.6,198.2L201.7,197.3L204.7,196.4L208.7,193.8L211.2,193.8L213.6,193.8L216.0,193.8L217.8,192.8L219.3,191.3L220.6,189.5L222.9,187.6L224.6,187.8L225.4,188.5L224.2,192.0L224.7,193.1L225.1,194.3L221.6,195.6ZM226.8,195.6L226.4,196.8L226.1,196.4Z"/><path fill="#084081" d="M72.3,164.2L73.0,162.3L75.4,161.8L77.8,161.3L76.8,162.8L74.5,163.5ZM56.4,156.0L59.1,156.0L57.2,157.0ZM129.1,134.5L125.5,137.4L121.9,140.4L118.4,143.4L115.0,146.4L111.6,149.5L108.2,152.6L104.9,155.8L106.4,156.1L107.9,156.5L108.2,158.9L111.3,157.7L114.5,157.2L114.5,160.1L114.0,163.7L114.8,165.0L115.6,166.2L113.3,168.6L111.9,169.4L111.7,167.4L111.4,165.6L111.2,163.7L111.0,161.9L110.8,160.1L108.0,160.1L106.9,158.7L105.8,157.2L103.4,157.0L101.1,156.7L98.7,156.5L98.1,155.3L97.5,154.1L94.0,155.3L90.4,156.5L86.6,157.5L82.8,158.4L85.2,156.5L87.7,154.6L84.9,155.6L82.1,156.5L76.3,160.1L72.0,161.9L67.7,163.7L64.5,165.0L61.3,166.2L57.8,167.2L54.4,168.1L51.8,168.8L49.3,169.4L47.4,169.5L45.5,169.6L49.2,168.3L52.8,166.9L55.5,166.2L58.2,165.4L61.7,164.0L65.2,162.5L70.3,159.6L67.5,159.6L64.6,159.7L61.6,159.9L65.5,156.5L63.5,155.9L61.5,155.3L64.9,151.8L69.7,149.4L72.3,149.0L74.8,148.6L77.4,148.2L80.3,145.9L78.6,145.9L76.8,145.9L74.7,145.9L72.6,145.9L72.0,144.7L71.4,143.4L74.7,142.7L77.9,142.0L81.1,141.4L82.4,141.7L83.7,142.0L85.2,140.2L85.8,138.0L84.0,137.5L82.3,137.1L85.2,136.0L88.7,135.3L92.2,134.7L96.2,133.6L100.3,132.5L103.1,131.9L105.8,131.4L108.5,130.8L110.5,131.1L112.4,131.5L114.4,131.9L116.1,132.1L117.9,132.4L119.7,132.7L121.6,133.0L123.4,133.3L125.2,133.6L127.1,134.0ZM58.1,148.7L58.7,148.0L60.6,148.4L62.6,148.7L59.9,149.4Z"/><path fill="#084081" d="M10.2,260.4L10.7,258.3L12.7,259.6L10.8,261.7ZM9.6,256.2L11.1,256.8L10.1,257.3ZM6.6,254.7L7.6,255.2L6.6,255.4ZM3.6,253.1L4.4,253.4L3.6,253.9Z"/><path fill="#7bccc4" d="M144.4,247.1L143.8,249.7L143.3,252.3L143.8,256.2L144.8,258.6L145.8,260.9L148.1,262.5L149.1,263.5L151.5,263.0L153.8,262.5L156.0,262.8L158.1,260.7L158.8,258.4L159.4,256.2L161.6,255.6L163.9,254.9L167.2,254.9L167.6,255.7L165.5,259.4L164.5,262.7L164.0,262.8L163.5,262.8L163.3,262.8L161.2,264.2L161.1,264.6L159.0,264.6L156.9,264.6L156.7,266.0L155.8,266.0L157.8,268.2L157.7,269.0L154.8,269.0L153.4,271.4L153.0,273.0L151.4,271.1L149.7,269.3L147.3,268.7L143.7,270.1L141.5,269.3L139.4,268.5L136.3,267.2L134.2,265.6L132.0,264.1L128.7,263.3L125.8,260.1L124.6,257.8L125.9,254.9L125.1,252.7L124.2,250.5L122.8,248.1L121.5,245.8L118.8,244.0L119.1,241.4L116.6,238.0L114.7,235.4L114.6,232.8L114.5,230.1L112.9,229.1L111.2,228.1L110.7,230.1L111.2,232.8L111.8,235.4L113.3,238.0L114.5,241.9L115.9,245.8L115.9,247.9L117.2,250.5L116.0,251.3L114.1,249.2L112.3,247.1L112.7,243.2L111.0,241.9L109.3,240.6L107.6,238.5L109.9,236.7L107.7,232.8L107.3,230.5L107.0,228.3L106.8,226.2L109.5,226.0L112.3,225.7L111.9,226.2L114.3,227.3L116.7,228.3L119.2,229.4L122.2,229.4L125.3,229.4L125.7,228.1L127.6,228.1L129.5,228.1L131.8,231.2L132.2,233.8L134.7,235.4L136.2,233.5L139.2,233.3L140.3,236.7L141.9,239.3L142.2,242.1L143.8,242.8L145.5,243.5L145.9,243.4L146.0,243.2Z"/><path fill="#a8ddb5" d="M162.6,270.1L160.1,272.1L159.6,273.4L157.8,275.1L157.7,275.2L154.9,274.5L153.2,273.2L153.0,273.0L153.4,271.4L154.8,269.0L157.7,269.0L157.8,268.2L155.8,266.0L156.7,266.0L156.9,264.6L159.0,264.6L161.1,264.6L160.8,267.1L160.4,269.5L161.1,269.5L161.6,269.4L161.7,270.1Z"/><path fill="#ccebc5" d="M172.3,278.4L171.6,282.3L172.0,282.6L171.1,282.8L169.5,282.3L167.3,282.1L165.6,279.7L163.5,277.4L163.5,277.2L164.0,277.1L165.5,275.0L167.6,274.7L169.9,272.4L171.9,272.1L173.8,271.9L173.1,274.5Z"/><path fill="#7bccc4" d="M173.4,287.3L173.5,289.4L173.4,289.7L173.2,289.6L171.4,288.6L169.3,286.0L167.1,285.2L167.3,282.1L169.5,282.3L171.1,282.8L172.0,282.6L174.1,286.0Z"/><path fill="#0868ac" d="M109.8,182.4L108.2,180.9L108.5,179.1L110.4,179.6L112.4,180.1L113.9,181.4L114.3,184.9L111.9,184.6L110.8,183.5ZM108.0,171.1L106.8,173.3L105.7,175.6L104.9,173.8L105.8,170.9ZM153.0,132.5L153.6,133.7L154.4,134.9L157.2,134.6L160.0,134.3L162.8,134.0L164.1,134.6L165.4,135.2L166.8,135.8L167.7,137.0L168.6,138.2L170.7,138.2L172.8,138.2L174.9,138.2L177.0,138.2L177.8,139.2L178.6,140.2L181.9,137.5L184.0,137.8L186.1,138.0L188.3,138.2L190.4,138.4L192.8,138.3L195.2,138.1L197.6,138.0L199.5,137.8L201.3,137.5L202.2,136.9L199.6,137.1L197.0,137.4L196.5,137.2L196.2,135.6L196.5,135.2L197.3,134.9L199.5,134.5L201.7,134.1L203.9,133.7L204.4,134.0L204.7,132.9L207.7,131.2L210.7,129.5L211.0,131.0L211.4,132.5L211.0,134.9L212.2,136.7L212.9,137.9L213.7,139.1L217.9,136.9L222.2,134.2L221.2,133.0L218.9,132.9L216.7,132.8L216.2,132.6L217.0,130.4L218.9,127.6L216.3,128.5L213.7,129.4L211.6,129.1L209.5,128.7L209.3,128.3L210.8,126.7L212.4,125.1L212.9,124.8L213.8,124.6L215.6,124.6L217.5,124.6L219.3,124.6L221.2,124.6L221.5,124.9L221.1,126.1L223.5,125.7L226.0,125.4L228.5,125.0L229.0,125.2L229.7,126.5L232.0,126.1L234.2,125.7L236.4,125.3L238.4,125.3L240.3,125.4L242.3,125.4L242.8,125.5L243.6,126.5L244.5,127.4L245.5,128.3L247.1,129.3L248.8,130.4L250.2,131.5L251.6,132.6L252.6,134.6L253.6,136.7L254.7,138.7L256.1,139.4L257.6,140.0L259.0,140.6L258.7,141.2L255.9,142.9L253.1,144.6L252.1,144.6L250.7,144.1L249.4,143.6L247.6,143.8L248.6,145.9L249.7,148.1L247.0,150.8L246.2,151.1L245.1,151.1L243.9,150.2L242.6,149.3L242.1,150.5L241.1,150.9L239.3,150.7L237.6,150.6L235.8,150.4L234.8,148.8L233.8,147.2L231.4,147.1L229.0,147.0L227.0,146.5L224.9,146.1L225.0,145.6L228.3,143.2L230.3,143.1L232.2,143.1L234.2,143.1L236.3,141.1L238.4,139.2L237.7,138.2L237.1,137.2L235.6,136.1L234.1,134.9L232.7,133.8L230.5,134.1L228.2,134.4L227.3,134.4L226.6,136.9L223.1,140.2L220.9,141.0L218.6,141.8L217.0,141.6L215.5,141.4L214.0,142.8L216.1,142.5L218.1,142.2L218.8,142.2L219.8,143.7L220.8,145.2L221.8,146.8L221.5,147.4L219.1,148.3L216.7,149.2L214.6,149.3L212.4,149.4L210.3,149.5L209.5,147.2L210.0,146.1L208.0,147.1L205.0,147.5L202.0,148.0L198.9,149.9L195.8,151.8L192.8,154.1L189.7,156.5L188.3,159.4L188.5,161.5L188.7,163.7L191.1,163.7L193.4,163.7L195.2,164.8L196.9,165.8L198.7,166.8L200.5,167.9L203.0,168.0L205.5,168.1L204.2,170.9L202.9,173.6L203.4,177.3L206.1,177.8L208.9,174.8L209.9,172.3L211.0,169.9L213.9,168.0L216.7,166.2L219.6,162.5L218.5,160.9L217.5,159.4L221.0,156.5L222.1,153.8L223.3,151.0L225.7,151.0L228.1,151.0L230.5,151.0L231.9,151.8L233.3,152.5L234.7,153.3L236.0,154.1L235.3,156.5L234.5,158.9L236.7,160.1L238.8,159.7L240.8,159.4L244.4,155.8L245.5,156.0L246.0,158.7L246.5,161.3L246.8,165.0L248.5,167.9L250.5,168.9L252.5,169.9L253.1,172.3L253.7,174.8L253.1,176.6L250.4,177.3L247.6,178.1L243.9,180.3L240.9,180.3L237.9,180.3L235.5,180.4L233.2,180.5L230.8,180.6L228.4,181.9L225.9,183.1L221.6,186.7L218.7,189.0L222.0,186.9L225.2,184.9L228.1,184.0L230.9,183.1L233.7,183.6L234.0,184.1L230.9,186.2L228.8,186.2L231.4,187.4L230.9,190.5L233.3,191.3L236.2,191.8L240.2,188.7L240.9,191.3L237.9,193.1L235.0,194.0L232.2,194.9L229.7,196.3L227.2,197.7L226.4,196.8L226.8,195.6L226.1,196.4L227.4,194.9L230.7,193.1L227.5,193.3L225.1,194.3L224.7,193.1L224.2,192.0L225.4,188.5L224.6,187.8L222.9,187.6L220.6,189.5L219.3,191.3L217.8,192.8L216.0,193.8L213.6,193.8L211.2,193.8L208.7,193.8L204.7,196.4L201.7,197.3L198.6,198.2L198.4,199.5L195.6,200.4L192.8,201.4L190.0,202.3L189.2,201.0L191.5,199.0L192.5,196.0L193.6,193.1L192.2,191.3L190.9,190.0L190.5,189.0L188.6,187.8L186.7,186.6L184.8,185.4L182.2,186.2L179.8,185.9L177.4,185.7L175.1,185.0L172.8,184.4L171.9,183.6L169.0,183.6L166.0,183.6L163.1,183.6L160.2,183.6L157.2,183.6L154.3,183.6L151.3,183.6L148.4,183.6L145.4,183.6L142.5,183.6L139.5,183.6L136.6,183.6L133.6,183.6L130.7,183.6L127.7,183.6L124.8,183.6L121.9,183.6L118.9,183.6L116.0,183.6L116.1,182.9L114.7,181.1L113.1,179.8L111.5,178.6L112.4,174.8L112.1,172.3L111.9,169.9L111.9,169.4L113.3,168.6L115.6,166.2L114.8,165.0L114.0,163.7L114.5,160.1L114.5,157.2L111.3,157.7L108.2,158.9L107.9,156.5L106.4,156.1L104.9,155.8L108.2,152.6L111.6,149.5L115.0,146.4L118.4,143.4L121.9,140.4L125.5,137.4L129.1,134.5L130.6,134.6L132.1,134.7L133.4,135.3L134.7,136.0L137.6,135.3L140.4,134.7L143.5,134.2L146.5,133.8L149.7,133.2ZM194.1,130.1L195.3,131.4L196.5,132.6L195.2,135.1L194.5,135.4L192.2,136.0L189.8,136.6L187.4,137.2L185.5,137.1L183.7,136.9L181.8,136.8L179.4,136.9L177.1,137.1L174.7,137.3L172.4,137.4L171.2,136.8L170.0,136.1L168.8,135.5L169.4,133.1L169.9,132.7L170.6,132.5L172.6,132.3L174.7,132.1L173.0,131.6L171.4,131.1L171.2,130.7L172.0,130.2L174.7,129.5L177.4,128.8L180.0,128.1L182.7,127.4L185.2,127.1L187.7,126.8L190.2,126.5L192.7,126.3L194.3,126.8L196.0,127.3ZM203.8,130.8L202.6,130.8L201.4,130.2L200.3,129.6L199.1,129.0L200.7,126.4L201.3,126.1L202.1,125.9L204.2,125.6L206.4,125.3L208.6,125.0L209.3,125.2L209.3,126.5L209.3,127.8L206.5,129.3ZM180.5,126.4L179.7,126.9L176.5,128.0L173.4,129.0L170.3,130.1L167.7,130.6L165.1,131.1L162.5,131.5L161.8,131.5L160.5,130.8L159.2,130.1L160.6,128.7L164.6,126.9L168.6,125.1L171.1,124.7L173.6,124.4L176.0,124.0L176.7,124.1L177.9,124.7L179.1,125.4L180.4,126.1ZM198.7,123.6L196.4,123.7L194.2,123.8L191.9,124.0L189.6,124.1L187.3,124.2L185.0,124.4L184.0,123.8L183.0,123.2L182.0,122.6L183.6,121.2L181.7,121.7L179.8,122.1L178.3,121.8L176.7,121.4L175.3,121.1L175.2,120.7L176.2,120.2L178.8,119.7L181.3,119.2L183.9,118.7L186.4,118.2L187.0,118.2L188.0,118.8L189.1,119.4L189.1,119.7L188.1,120.2L187.5,120.4L189.9,120.2L192.3,120.0L194.7,119.8L197.1,119.6L199.5,119.3L200.5,119.9L201.5,120.4L202.5,120.9L200.0,123.2ZM214.6,121.8L214.3,122.2L213.5,122.5L211.4,122.8L209.3,123.2L207.3,123.6L205.5,123.3L203.8,123.1L202.2,122.9L202.0,122.5L205.4,119.9L206.1,119.7L208.2,119.6L210.4,119.6L212.5,119.5L214.6,119.4L214.9,119.6L214.7,120.7ZM218.2,117.6L216.3,117.7L214.4,117.8L212.5,117.9L210.6,118.0L209.9,116.9L209.2,115.9L209.6,115.5L210.6,115.2L212.8,115.1L215.0,115.0L217.2,115.0L218.0,115.6L218.8,116.2L219.6,116.8L219.4,117.2ZM236.5,190.2L235.1,191.3L232.4,190.2L232.4,189.0L234.4,189.6ZM250.5,181.6L253.1,182.9L256.0,183.1L256.6,186.9L254.3,189.5L253.4,187.4L250.3,189.0L249.8,187.2L246.8,187.2L245.0,187.1L243.2,186.9L246.4,183.1L248.3,181.1L250.3,179.1L253.3,177.1L252.8,179.8ZM238.3,182.1L239.3,183.4L237.6,183.1L236.0,182.9L234.7,181.6L236.5,181.9ZM228.0,119.2L231.2,118.0L234.4,116.8L236.9,115.7L239.5,114.5L238.5,114.2L237.6,113.9L235.5,115.4L234.8,115.6L231.8,116.3L228.8,116.9L228.0,117.0L227.0,116.3L226.0,115.6L225.0,115.0L226.2,112.8L226.8,112.5L229.4,112.0L232.0,111.5L234.6,111.0L235.3,111.0L236.5,111.3L237.7,111.7L240.6,110.9L243.5,110.1L246.3,109.4L248.6,109.2L250.8,109.0L253.0,108.8L255.2,108.7L257.4,108.5L259.6,108.3L261.7,108.1L263.7,108.2L265.6,108.2L267.5,108.3L269.5,108.3L271.4,108.3L273.3,108.4L275.3,108.4L276.5,108.7L277.7,109.0L278.9,109.2L279.1,109.5L278.6,109.9L276.0,110.6L273.4,111.3L270.8,112.1L268.7,112.5L266.5,113.0L264.3,113.5L262.1,114.0L259.8,114.5L257.8,114.9L255.8,115.2L253.7,115.5L252.8,117.1L252.4,117.4L249.8,118.2L247.1,119.0L244.5,119.9L241.8,120.7L239.7,120.7L240.4,120.8L240.7,121.0L240.7,123.1L240.4,123.4L239.5,123.7L237.1,124.0L234.6,124.3L232.1,124.6L230.0,124.5L228.0,124.5L226.0,124.4L224.0,124.4L222.6,124.0L221.2,123.7L219.8,123.3L221.5,121.7L223.2,120.0L223.8,119.7L224.6,119.5L226.1,119.6L227.5,119.6L227.6,119.5Z"/><path fill="#a8ddb5" d="M194.8,263.0L196.9,262.8L199.4,262.8L198.6,261.2L197.7,259.6L198.8,259.1L201.0,259.6L200.9,263.3L199.5,263.5L196.1,263.8Z"/><path fill="#4eb3d3" d="M236.0,295.6L239.4,295.9L238.4,299.3L239.3,301.9L237.9,305.0L237.0,304.2L234.9,304.5L234.9,305.8L233.5,306.0L231.7,302.4L230.1,300.6L230.4,298.5L232.0,297.4L232.3,295.6L232.3,295.4L234.1,295.5Z"/><path fill="#7bccc4" d="M202.9,279.4L203.8,281.0L207.1,282.3L207.7,283.6L210.0,283.5L212.3,283.4L214.6,284.7L216.9,283.4L219.2,283.2L221.5,283.1L219.6,283.9L221.6,285.0L223.7,286.2L224.0,288.8L225.8,288.8L224.1,291.4L225.0,292.5L223.2,293.5L222.4,295.6L224.0,297.4L223.2,299.3L221.3,299.8L219.3,300.3L218.8,301.4L216.9,300.8L214.9,300.3L216.3,300.8L215.8,304.5L217.6,305.3L215.7,307.1L213.2,306.3L212.7,308.7L210.9,309.0L209.5,307.9L208.9,305.0L207.5,303.7L208.7,302.1L207.6,299.3L207.6,297.2L208.4,294.8L206.2,295.0L204.0,295.1L202.5,292.7L200.4,292.7L198.4,292.7L197.3,291.7L197.1,289.4L196.1,286.7L196.5,283.9L198.2,282.1L199.1,281.3L199.5,282.6L200.9,282.3ZM200.5,286.5L200.6,284.4L199.5,283.1L198.8,283.9L198.2,285.7L199.1,287.3ZM200.4,279.2L200.9,279.4L200.4,280.2Z"/><path fill="#a8ddb5" d="M190.2,286.0L190.5,283.9L192.2,282.1L193.6,281.5L196.4,281.0L199.6,278.7L200.4,279.2L200.4,280.2L198.9,281.0L199.1,281.3L198.2,282.1L196.5,283.9L196.1,286.7L197.1,289.4L197.3,291.7L198.4,292.7L200.4,292.7L202.5,292.7L204.0,295.1L206.2,295.0L208.4,294.8L207.6,297.2L207.6,299.3L208.7,302.1L207.5,303.7L208.9,305.0L209.5,307.9L209.0,307.9L208.4,305.5L206.5,305.9L204.7,306.2L202.8,306.6L202.7,308.2L204.2,308.4L203.7,309.2L202.2,309.4L202.2,311.5L203.3,312.3L203.7,313.9L203.4,316.6L203.0,319.3L202.6,322.0L201.8,320.9L200.9,320.9L202.4,318.0L199.2,317.0L195.7,317.3L193.8,314.4L191.3,311.5L190.1,311.3L187.8,310.0L185.3,310.0L183.9,308.7L182.1,307.3L182.1,306.3L185.1,304.2L186.1,300.8L185.7,298.7L185.3,296.7L185.7,293.8L184.6,292.2L185.9,288.3L187.1,288.6L187.2,290.1L188.7,288.0Z"/><path fill="#7bccc4" d="M196.3,353.5L194.2,352.2L192.2,350.9L189.3,347.3L188.2,344.8L187.1,342.3L185.9,340.1L184.8,337.9L183.2,334.5L182.1,332.3L180.9,330.0L177.6,326.6L176.5,323.3L178.7,319.9L178.6,322.7L180.4,322.5L182.5,323.0L183.1,319.9L184.5,318.8L187.2,317.8L188.8,315.7L190.4,313.6L189.4,311.3L190.1,311.3L191.3,311.5L193.8,314.4L195.7,317.3L199.2,317.0L202.4,318.0L200.9,320.9L201.8,320.9L202.6,322.0L200.7,322.0L198.3,323.4L195.9,324.8L195.3,326.9L193.6,330.3L194.8,332.6L196.1,335.0L198.0,337.1L199.8,336.4L201.6,335.8L201.8,339.7L204.1,339.6L205.3,341.6L206.4,343.6L206.0,346.7L205.3,349.6L205.8,350.9L205.0,351.9L206.5,353.3L205.4,356.1L205.7,356.6L203.9,358.8L201.3,356.4L198.8,354.9Z"/><path fill="#4eb3d3" d="M210.9,336.8L213.8,336.6L213.8,339.0L213.9,341.5L216.3,343.6L219.5,343.9L222.4,346.2L225.4,347.0L226.1,350.3L226.8,353.5L228.7,353.5L230.7,353.5L231.1,356.1L233.1,358.5L232.5,360.6L231.9,362.6L232.1,363.6L229.7,361.3L226.8,361.7L223.9,362.1L222.8,364.7L222.6,366.9L222.4,369.0L219.5,368.4L218.6,370.5L216.6,368.6L214.0,367.9L212.3,370.5L210.1,366.6L208.6,363.2L207.4,360.6L205.7,356.6L205.4,356.1L206.5,353.3L205.0,351.9L205.8,350.9L205.3,349.6L206.0,346.7L206.4,343.6L205.3,341.6L204.1,339.6L207.1,339.7L209.0,338.3Z"/><path fill="#7bccc4" d="M231.8,454.6L229.4,453.9L226.9,453.1L223.8,451.4L226.1,451.4L226.4,449.9L225.8,447.7L227.5,447.7L229.2,447.7L230.3,450.4L231.5,453.1L233.3,453.5L235.1,453.8L234.9,453.9L233.4,454.2ZM225.2,450.7L223.2,449.9L221.2,449.2L217.1,446.7L214.7,443.4L212.9,440.3L211.1,437.1L210.1,434.8L209.1,432.5L210.3,431.4L211.5,430.2L211.2,427.9L210.9,425.6L209.7,422.8L208.4,419.9L207.7,417.6L207.1,415.3L206.3,412.0L205.5,408.8L206.0,406.7L206.2,403.6L206.5,400.3L206.9,397.1L206.1,393.2L205.5,389.2L205.2,386.6L205.0,384.0L205.3,380.8L205.7,377.5L205.5,375.0L205.3,372.5L205.2,369.2L205.0,365.8L204.6,362.4L204.1,359.0L203.9,358.8L205.7,356.6L207.4,360.6L208.6,363.2L210.1,366.6L212.3,370.5L212.8,371.0L212.4,373.6L210.0,375.7L210.5,379.6L211.2,381.2L210.0,383.2L208.7,385.3L208.8,389.2L208.5,393.2L209.5,395.5L210.6,397.8L211.6,400.5L210.9,403.1L211.5,405.4L210.5,407.5L211.2,409.6L212.0,411.6L211.3,414.2L211.9,417.9L213.0,421.7L214.7,425.6L216.8,429.5L216.7,432.0L217.2,434.6L217.4,437.9L216.3,439.6L218.2,442.2L219.8,442.7L220.8,445.2L221.9,445.9L223.8,445.9L225.7,445.9L227.4,446.3L229.1,446.7L226.9,447.3L224.8,447.9L225.2,448.9Z"/><path fill="#7bccc4" d="M237.9,452.6L236.5,453.2L235.1,453.8L233.3,453.5L231.5,453.1L230.3,450.4L229.2,447.7L231.2,449.7L235.0,451.9ZM241.2,405.9L240.7,408.0L240.3,410.1L237.5,411.9L234.9,412.3L232.4,412.7L230.8,412.2L231.2,414.5L231.7,416.8L229.5,418.1L226.3,417.9L227.0,420.5L230.4,421.7L228.9,423.0L228.4,426.9L226.5,428.7L225.1,430.7L229.0,433.3L230.2,435.6L229.1,437.6L228.2,439.6L226.1,442.2L227.2,444.9L229.1,446.7L227.4,446.3L225.7,445.9L223.8,445.9L221.9,445.9L220.8,445.2L219.8,442.7L218.2,442.2L216.3,439.6L217.4,437.9L217.2,434.6L216.7,432.0L216.8,429.5L214.7,425.6L213.0,421.7L211.9,417.9L211.3,414.2L212.0,411.6L211.2,409.6L210.5,407.5L211.5,405.4L210.9,403.1L211.6,400.5L210.6,397.8L209.5,395.5L208.5,393.2L208.8,389.2L208.7,385.3L210.0,383.2L211.2,381.2L210.5,379.6L210.0,375.7L212.4,373.6L212.8,371.0L212.3,370.5L214.0,367.9L216.6,368.6L218.6,370.5L219.5,368.4L222.4,369.0L224.5,371.1L226.5,373.1L229.2,374.4L232.0,375.7L234.6,377.0L233.7,380.6L233.0,382.2L235.3,382.5L237.7,382.7L239.2,382.5L240.2,380.1L241.1,377.8L243.5,380.6L243.8,381.7L241.8,383.4L239.8,385.1L238.0,387.4L236.3,389.8L236.1,392.6L235.9,395.5L236.1,397.6L236.3,399.7L236.6,401.2L239.6,403.6Z"/><path fill="#a8ddb5" d="M245.8,299.8L247.1,303.0L248.4,306.3L248.4,308.7L248.4,311.0L251.9,312.3L253.0,312.8L255.3,313.2L257.6,313.6L261.1,317.5L264.6,318.0L268.0,318.6L271.5,318.3L275.0,320.6L278.5,323.5L280.4,324.0L282.4,324.6L283.0,328.2L283.7,331.9L282.2,335.8L278.8,339.7L277.2,342.3L275.6,344.9L275.1,347.5L274.6,350.1L274.6,353.4L274.5,356.6L274.0,359.2L273.5,361.9L272.5,363.9L271.8,366.2L271.1,368.4L269.1,371.0L266.4,371.0L263.0,371.8L261.3,372.7L259.6,373.6L257.8,375.3L256.1,377.0L255.0,380.1L255.6,383.0L254.8,385.6L253.6,388.1L252.5,390.5L250.9,392.5L249.4,394.5L248.2,396.7L247.0,398.9L247.0,396.3L245.5,394.7L243.4,393.2L241.0,391.6L240.1,391.3L238.2,390.5L236.3,389.8L238.0,387.4L239.8,385.1L241.8,383.4L243.8,381.7L243.5,380.6L241.1,377.8L241.6,373.9L239.2,373.6L238.4,369.9L236.0,368.9L233.1,368.6L232.6,366.1L232.1,363.6L231.9,362.6L232.5,360.6L233.1,358.5L231.1,356.1L230.7,353.5L228.7,353.5L226.8,353.5L226.1,350.3L225.4,347.0L222.4,346.2L219.5,343.9L216.3,343.6L213.9,341.5L213.8,339.0L213.8,336.6L210.9,336.8L209.0,338.3L207.1,339.7L204.1,339.6L201.8,339.7L201.6,335.8L199.8,336.4L198.0,337.1L196.1,335.0L194.8,332.6L193.6,330.3L195.3,326.9L195.9,324.8L198.3,323.4L200.7,322.0L202.6,322.0L203.0,319.3L203.4,316.6L203.7,313.9L203.3,312.3L202.2,311.5L202.2,309.4L203.7,309.2L204.2,308.4L202.7,308.2L202.8,306.6L204.7,306.2L206.5,305.9L208.4,305.5L209.0,307.9L209.5,307.9L210.9,309.0L212.7,308.7L213.2,306.3L215.7,307.1L217.6,305.3L215.8,304.5L216.3,300.8L214.9,300.3L216.9,300.8L218.8,301.4L219.3,300.3L221.3,299.8L223.2,299.3L224.0,297.4L225.6,297.7L225.8,299.3L226.7,300.8L226.2,302.9L225.7,305.0L227.7,307.6L230.0,307.1L231.6,305.8L233.5,306.0L234.9,305.8L234.9,304.5L237.0,304.2L237.9,305.0L239.7,305.0L241.8,305.3L243.2,302.7L244.6,300.0Z"/><path fill="#a8ddb5" d="M346.6,214.5L344.2,214.5L344.8,210.9L343.3,209.8L344.5,206.7L345.2,203.6L344.9,201.8L346.4,201.3L346.6,202.1L349.7,201.8L350.5,202.6L349.0,204.1L349.0,206.2L348.7,207.5L347.6,207.8L348.7,209.3L348.0,210.9L348.6,211.4L347.5,213.2L347.7,214.0Z"/><path fill="#4eb3d3" d="M350.0,215.8L348.5,214.0L347.7,214.0L347.5,213.2L348.6,211.4L348.0,210.9L348.7,209.3L347.6,207.8L348.7,207.5L349.0,206.2L349.0,204.1L350.5,202.6L349.7,201.8L346.6,202.1L346.4,201.3L344.9,201.8L344.2,199.2L346.1,197.9L349.0,197.4L351.7,197.4L353.7,197.6L355.7,197.7L357.3,197.9L359.8,197.9L360.7,198.7L362.1,199.2L365.1,199.5L366.5,200.0L367.8,200.5L370.3,200.5L370.5,200.8L368.2,203.1L366.1,203.9L365.5,204.9L363.6,206.7L363.0,208.0L364.0,210.1L362.5,211.1L361.5,213.0L358.9,215.3L358.2,215.0L356.2,215.2L354.1,215.3L351.9,216.9L351.5,217.1Z"/><path fill="#2b8cbe" d="M383.6,201.5L383.0,203.1L381.9,202.1L381.8,200.3L383.2,199.2ZM361.1,194.9L361.3,192.3L361.1,190.8L359.1,188.5L359.1,187.9L357.5,187.2L354.7,186.7L353.9,185.2L356.5,184.1L359.6,184.6L360.4,184.4L360.4,181.9L361.4,182.6L363.8,182.4L366.6,180.9L367.4,178.6L368.6,178.3L370.0,179.3L372.0,181.1L373.2,180.7L375.2,182.4L376.4,182.4L378.3,183.0L380.1,183.6L379.0,187.2L377.8,187.7L376.1,190.0L375.9,190.8L377.5,190.2L378.0,191.5L377.2,193.6L378.1,194.9L377.9,195.6L379.6,196.1L379.2,196.9L378.8,197.2L376.1,198.7L374.9,198.2L373.2,197.9L371.7,197.7L370.1,199.0L370.3,200.5L367.8,200.5L366.5,200.0L365.1,199.5L362.1,199.2L360.7,198.7L359.8,197.9L360.5,197.7Z"/><path fill="#084081" d="M372.8,173.6L375.3,172.6L377.6,172.8L377.6,175.3L377.0,176.1L375.4,176.3L375.9,177.3L375.5,179.1L374.9,179.1L375.3,178.3L373.5,177.3L372.1,177.6L370.3,177.6L371.5,176.1Z"/><path fill="#0868ac" d="M383.1,187.4L383.0,188.5L385.0,189.0L384.9,189.7L384.3,190.5L382.6,190.2L382.1,191.7L381.0,190.8L380.0,191.3L378.0,191.5L377.5,190.2L375.9,190.8L376.1,190.0L377.8,187.7L379.0,187.2L381.1,186.8Z"/><path fill="#0868ac" d="M386.0,187.7L388.4,187.2L390.0,187.4L389.7,185.7L391.4,184.4L393.8,183.6L396.1,184.3L397.9,184.6L398.3,186.2L397.9,186.9L397.1,187.4L396.5,189.0L394.3,189.7L391.6,190.0L388.9,189.5L388.3,188.7L386.1,189.2L385.0,189.0L383.0,188.5L383.1,187.4L385.0,187.7Z"/><path fill="#2b8cbe" d="M387.7,180.3L389.5,179.8L392.0,178.6L393.0,178.8L395.0,179.3L396.1,179.6L397.3,180.1L398.9,180.3L400.8,181.4L401.3,182.4L399.9,183.9L397.9,184.6L396.1,184.3L393.8,183.6L391.4,184.4L389.1,182.6Z"/><path fill="#0868ac" d="M379.4,172.1L380.3,171.3L380.3,168.9L381.9,169.1L382.3,169.1L383.1,170.1L384.7,171.1L386.8,170.6L389.7,169.6L391.2,171.3L391.7,173.1L391.2,174.1L392.5,175.6L392.7,177.3L393.4,178.6L393.0,178.8L392.0,178.6L389.5,179.8L387.7,180.3L389.1,182.6L391.4,184.4L389.7,185.7L390.0,187.4L388.4,187.2L386.0,187.7L385.0,187.7L383.1,187.4L381.1,186.8L379.0,187.2L380.1,183.6L378.3,183.0L376.4,182.4L376.6,181.6L375.8,180.9L376.2,180.3L375.5,179.1L375.9,177.3L375.4,176.3L377.0,176.1L377.6,175.3L377.6,172.8Z"/><path fill="#4eb3d3" d="M394.6,170.4L396.4,169.7L398.3,169.1L399.8,170.1L401.5,170.1L403.6,170.2L405.6,170.2L407.7,170.2L409.2,171.3L410.4,174.3L409.2,175.3L410.1,175.8L410.3,177.3L411.5,179.1L410.9,180.1L408.9,182.4L409.2,183.1L408.9,183.4L405.8,182.6L403.8,183.1L402.7,182.1L401.3,182.4L400.8,181.4L398.9,180.3L397.3,180.1L396.1,179.6L395.0,179.3L393.0,178.8L393.4,178.6L392.7,177.3L392.5,175.6L391.2,174.1L391.7,173.1L391.2,171.3L392.9,170.9Z"/><path fill="#7bccc4" d="M403.7,166.0L405.4,165.2L407.4,165.4L409.5,165.6L410.9,165.2L412.6,165.9L414.5,166.9L414.6,167.9L413.2,169.6L413.0,170.6L411.0,171.3L409.2,171.3L407.7,170.2L407.5,168.9L407.1,168.5L404.5,168.0L403.9,167.9L404.0,166.9Z"/><path fill="#4eb3d3" d="M409.4,160.3L407.4,159.9L407.0,158.4L409.3,157.7L411.6,157.5L413.5,157.6L415.4,157.7L415.8,157.9L414.6,159.6L415.6,161.5L415.1,162.4L413.5,162.5L411.0,161.3L409.4,161.6L409.4,161.5Z"/><path fill="#084081" d="M401.2,145.7L399.6,147.5L398.2,148.7L396.7,149.9L394.9,150.8L394.7,152.5L395.0,154.8L397.8,156.0L397.9,158.2L395.3,159.6L394.8,161.8L394.7,164.5L394.1,165.7L393.3,165.8L391.0,167.2L390.1,167.6L388.5,167.2L387.8,165.7L386.7,163.7L386.0,162.0L384.4,159.1L384.2,158.7L385.2,157.7L385.4,157.0L386.7,155.5L385.8,154.1L386.9,153.4L385.7,152.5L385.4,149.4L385.1,148.0L386.8,147.3L388.5,146.6L387.5,145.7L389.1,144.1L388.7,142.3L390.2,141.8L391.2,140.2L391.5,139.1L394.0,138.2L394.1,136.9L395.7,137.0L397.3,137.1L398.0,135.7L399.7,136.4L401.5,137.3L403.3,138.2L403.6,139.1L404.6,140.7L404.6,142.0L405.5,143.0L403.9,143.2L402.2,143.4Z"/><path fill="#0868ac" d="M409.5,156.0L407.8,156.5L406.0,157.0L404.3,155.5L402.6,154.1L402.6,152.9L402.1,151.0L401.6,149.2L403.5,147.5L405.8,145.9L408.1,144.8L406.3,143.2L405.5,143.0L404.6,142.0L404.6,140.7L403.6,139.1L403.3,138.2L401.5,137.3L399.7,136.4L398.0,135.7L399.7,135.1L401.2,136.4L403.4,136.3L405.7,136.7L406.8,135.6L406.8,134.2L408.3,133.8L409.7,133.4L412.4,134.7L412.0,135.7L411.6,136.9L414.6,138.7L413.5,140.5L415.9,143.2L415.7,145.2L417.7,146.9L416.8,147.8L418.5,148.7L420.1,149.6L418.9,151.5L417.7,153.4L416.1,154.3L414.5,155.2L413.0,155.3L411.3,155.7Z"/><path fill="#4eb3d3" d="M396.2,215.3L394.6,214.8L392.5,213.9L390.4,213.0L390.4,211.9L392.6,211.7L394.8,211.6L397.0,211.4L396.1,214.5ZM384.1,208.8L382.8,209.3L381.5,209.1L381.3,206.8L381.1,204.6L383.0,203.6L384.2,205.7ZM389.1,195.4L389.8,196.4L391.7,197.4L393.3,200.3L395.5,201.0L397.7,201.8L397.1,202.8L399.3,203.9L401.7,205.2L402.9,206.5L402.7,207.2L401.8,206.7L400.0,205.4L398.8,206.7L398.7,207.8L400.1,209.3L399.1,210.1L398.1,212.2L397.1,211.7L397.4,210.4L398.2,209.3L396.9,206.7L395.4,206.2L394.9,204.9L393.6,204.6L392.3,203.6L390.1,203.0L389.3,202.3L388.4,201.3L386.9,200.5L385.5,199.2L385.1,197.7L383.9,196.1L382.0,195.4L380.6,196.7L379.2,196.9L379.6,196.1L377.9,195.6L378.1,194.9L377.2,193.6L378.0,191.5L380.0,191.3L381.0,190.8L382.1,191.7L382.6,190.2L384.3,190.5L384.9,189.7L385.0,189.0L386.1,189.2L388.3,188.7L388.9,189.5L391.6,190.0L391.1,190.8L391.5,191.5L392.0,192.3L390.5,192.0L388.9,192.8L389.4,194.1Z"/><path fill="#a8ddb5" d="M397.9,186.9L398.3,186.2L399.7,186.8L401.7,186.7L403.1,185.7L405.0,184.9L407.0,184.9L408.4,185.2L410.0,186.2L408.3,187.4L407.0,190.2L406.6,190.6L405.2,190.9L403.6,190.9L402.4,191.5L399.5,191.4L398.4,190.8L397.4,190.0L396.5,189.0L397.1,187.4Z"/><path fill="#7bccc4" d="M398.4,193.2L400.3,193.7L401.8,193.6L402.9,194.1L403.6,194.2L403.2,195.6L404.3,196.4L403.6,197.7L402.6,198.5L402.2,200.1L400.5,199.0L399.4,197.8L397.2,195.9L396.2,194.3L396.2,193.3L397.3,193.8Z"/><path fill="#7bccc4" d="M401.5,200.0L399.6,198.8L397.8,197.7L395.2,196.1L394.4,193.8L393.3,193.1L392.1,194.3L391.4,192.7L391.5,192.7L391.6,192.7L393.6,192.3L395.1,192.5L395.7,191.8L395.8,190.8L397.4,190.0L398.4,190.8L399.5,191.4L402.4,191.5L403.0,193.1L402.9,194.1L401.8,193.6L400.3,193.7L398.4,193.2L397.3,193.8L396.2,193.3L396.2,194.3L397.2,195.9L399.4,197.8L400.5,199.0L402.2,200.1L402.4,199.5L402.3,200.0L402.5,200.5L402.4,200.6L402.4,200.5Z"/><path fill="#7bccc4" d="M405.2,190.9L407.9,193.3L407.8,194.3L410.1,194.6L410.7,195.9L410.1,196.4L411.6,198.5L410.6,199.2L410.5,200.8L408.9,200.9L408.3,199.4L407.0,198.3L406.0,199.4L403.6,197.7L404.3,196.4L403.2,195.6L403.6,194.2L402.9,194.1L403.0,193.1L402.4,191.5L403.6,190.9Z"/><path fill="#a8ddb5" d="M420.5,219.7L417.3,219.8L414.8,219.2L414.8,218.4L416.7,218.7L418.6,218.9L420.5,219.2ZM413.0,206.2L412.1,205.2L411.6,206.7L412.6,208.5L413.4,210.1L415.2,211.4L415.1,212.8L414.2,212.2L412.9,212.2L413.5,213.5L413.5,215.8L412.2,215.8L410.4,215.0L409.3,212.7L410.1,211.4L408.8,210.9L407.8,209.6L406.6,207.8L406.1,207.5L406.7,206.7L407.5,205.9L408.0,204.5L409.9,203.9L411.9,203.2L413.6,203.1L415.2,203.0L417.0,203.5L418.9,202.3L419.7,203.2L418.7,204.8L418.3,204.5L415.2,204.4L414.5,205.9Z"/><path fill="#7bccc4" d="M440.2,215.6L438.2,215.0L436.4,216.6L434.5,217.1L432.7,215.8L429.7,214.8L429.5,216.3L427.6,216.6L425.0,215.0L422.6,214.5L421.9,212.2L419.9,211.1L421.0,209.3L420.2,208.0L419.2,208.0L419.2,206.7L421.8,205.4L425.0,205.2L425.0,203.7L424.6,204.1L421.7,204.3L419.7,205.7L419.1,205.9L418.6,205.2L418.7,204.8L419.7,203.2L418.9,202.3L420.9,201.3L422.4,201.5L423.0,202.8L425.0,203.6L428.0,203.9L430.6,202.8L432.6,202.2L434.6,201.5L437.3,201.4L440.2,203.4L442.8,203.9L445.1,204.0L447.5,204.1L449.3,203.5L451.1,202.8L453.3,202.7L455.6,203.9L456.3,206.5L458.9,207.5L458.1,209.3L458.4,211.9L460.0,214.1L457.4,214.2L454.9,214.3L452.3,214.6L449.8,215.0L447.7,215.0L445.5,215.0L442.5,215.0L442.9,216.5L441.3,217.4L441.7,215.6Z"/><path fill="#a8ddb5" d="M423.1,195.9L423.1,197.0L421.4,196.6L419.6,196.1L416.7,197.3L414.6,197.2L411.4,196.9L410.7,195.9L410.1,194.6L407.8,194.3L407.9,193.3L405.2,190.9L406.6,190.6L407.0,190.2L408.3,187.4L410.0,186.2L411.6,186.3L413.3,186.4L415.4,186.0L417.4,185.5L419.5,187.4L421.0,189.2L421.7,192.7L424.6,193.1L424.9,193.8Z"/><path fill="#4eb3d3" d="M421.1,185.9L422.8,186.4L424.7,189.2L425.2,190.2L423.0,191.0L422.3,192.5L421.7,192.7L421.0,189.2L419.5,187.4L417.4,185.5L419.2,185.0Z"/><path fill="#7bccc4" d="M435.9,190.2L434.9,190.8L436.4,193.1L438.8,192.8L438.7,193.7L436.7,193.8L434.8,195.1L432.9,194.9L431.6,193.1L430.6,192.9L432.5,191.0L430.9,191.0L428.7,190.5L426.4,190.0L425.2,191.8L424.6,193.1L421.9,192.7L421.9,192.6L422.3,192.5L423.0,191.0L425.2,190.2L424.7,189.2L422.8,186.4L421.1,185.9L419.2,185.0L417.4,185.5L415.4,186.0L413.3,186.4L411.6,186.3L410.0,186.2L408.4,185.2L409.0,183.4L409.2,183.1L408.9,182.4L410.9,180.1L411.5,179.1L410.3,177.3L412.9,176.3L415.1,176.7L417.4,177.1L419.2,177.2L421.0,177.3L424.0,177.8L424.4,175.8L426.2,175.8L428.1,175.5L430.0,175.2L431.3,177.8L434.6,180.1L436.4,180.3L439.6,181.4L441.8,181.7L444.0,182.1L444.2,184.3L444.3,186.4L442.9,187.4L441.5,188.5L440.1,188.6L438.8,189.4Z"/><path fill="#0868ac" d="M353.9,159.9L355.7,159.8L357.5,159.7L356.3,161.8L358.1,161.9L359.8,162.0L359.6,164.0L357.5,166.2L359.0,166.8L360.5,167.4L363.4,170.6L364.2,173.6L366.7,174.1L366.6,176.1L365.2,177.1L366.4,177.8L365.4,178.8L363.5,179.1L361.6,179.3L359.6,179.5L357.6,179.6L356.4,180.6L354.4,180.8L352.4,181.0L354.7,178.3L357.7,177.8L355.9,177.3L354.1,176.8L355.4,174.8L354.6,172.8L356.2,172.7L357.8,172.6L357.8,170.6L356.7,169.4L354.0,169.4L354.4,167.4L352.7,167.6L353.0,165.0L351.9,163.0L353.1,161.5Z"/><path fill="#0868ac" d="M352.8,169.6L351.8,171.3L351.9,171.0L351.4,170.9L350.0,170.9L348.9,170.7L347.8,170.0L348.9,169.4L349.6,168.4L349.9,167.9L349.6,167.9L351.7,168.1Z"/><path fill="#a8ddb5" d="M451.1,201.0L449.2,199.0L447.0,197.9L449.6,198.2L452.3,198.5L455.3,199.7L457.6,199.7L459.3,200.3L461.1,201.8L460.9,202.6L462.1,203.4L461.8,204.0L458.5,203.4L455.6,203.9L453.3,202.7L451.1,202.8L451.2,202.5Z"/><path fill="#2b8cbe" d="M439.5,228.6L440.0,227.3L440.3,225.5L440.4,224.7L441.4,224.3L441.9,224.2L441.6,225.7L441.6,226.5L441.7,228.8L441.6,230.1L441.0,233.9L440.9,234.1L439.9,231.7L438.9,229.4Z"/><path fill="#a8ddb5" d="M441.0,234.1L441.0,233.9L441.6,230.1L441.7,228.8L441.6,226.5L441.6,225.7L444.4,226.8L446.4,225.3L448.4,223.9L449.7,227.1L447.4,228.0L445.0,228.8L447.5,231.5L446.5,232.8L443.6,234.8L441.1,234.4L441.1,234.1Z"/><path fill="#a8ddb5" d="M468.4,232.5L466.8,235.1L464.8,235.0L462.7,234.8L459.5,232.4L456.4,229.9L454.4,228.8L452.4,227.7L449.7,227.1L448.4,223.9L450.6,222.6L452.9,221.3L453.2,220.2L453.0,218.2L452.8,216.1L454.9,214.3L457.4,214.2L460.0,214.1L461.8,217.1L463.9,219.5L462.8,220.8L462.6,222.3L464.5,224.7L466.4,226.2L468.4,227.8L468.8,230.1L469.6,231.5L471.1,232.9L469.8,232.8Z"/><path fill="#4eb3d3" d="M474.5,240.6L475.8,242.1L476.0,244.2L476.8,245.3L477.5,246.3L478.5,246.8L479.4,246.8L479.5,247.9L479.5,248.1L482.0,251.3L484.9,251.6L487.7,251.9L487.9,251.8L489.2,253.6L488.6,256.2L488.1,258.8L484.8,260.1L481.5,261.4L478.6,262.1L475.8,262.8L473.0,263.5L470.5,266.8L468.4,266.2L466.3,265.6L464.3,265.5L462.2,265.4L461.9,267.4L461.0,268.2L460.5,266.9L458.8,264.7L457.0,262.5L455.6,260.3L454.1,258.1L452.1,254.9L450.3,251.0L448.9,248.1L447.0,245.8L445.2,243.2L442.7,239.3L441.5,237.7L440.6,237.7L440.8,235.9L441.1,234.4L443.6,234.8L446.5,232.8L447.5,231.5L445.0,228.8L447.4,228.0L449.7,227.1L452.4,227.7L454.4,228.8L456.4,229.9L459.5,232.4L462.7,234.8L464.8,235.0L466.8,235.1L469.0,235.4L469.6,236.5L471.1,236.7L472.5,239.0Z"/><path fill="#7bccc4" d="M485.7,247.1L487.5,245.0L488.9,243.7L489.0,243.6L489.2,244.0L489.8,244.2L490.0,245.8L490.1,245.9L490.1,246.1L488.7,246.1L489.4,248.1L488.9,248.4L487.9,251.8L487.7,251.9L484.9,251.6L482.0,251.3L479.5,248.1L479.5,247.9L481.7,247.9L483.7,247.5Z"/><path fill="#a8ddb5" d="M496.6,244.8L494.2,243.7L491.8,242.5L493.0,244.2L490.8,241.1L489.1,240.1L486.4,241.4L484.2,241.6L481.8,240.6L479.4,239.0L476.3,235.6L474.6,232.8L471.8,231.7L471.1,232.9L469.6,231.5L468.8,230.1L468.4,227.8L466.4,226.2L464.5,224.7L462.6,222.3L462.8,220.8L463.9,219.5L461.8,217.1L460.0,214.1L458.4,211.9L458.1,209.3L458.9,207.5L460.7,209.3L462.9,209.6L465.2,207.5L466.5,208.3L466.1,209.8L468.2,210.7L470.0,213.2L473.5,215.0L476.8,215.3L479.9,214.8L479.5,213.6L481.4,213.5L482.3,211.7L484.5,211.7L486.1,211.4L489.0,213.0L491.0,213.2L493.9,215.4L495.4,215.4L496.2,218.2L496.3,220.8L495.5,222.1L495.7,223.1L496.6,223.6L496.2,224.9L497.4,228.8L499.4,229.1L499.9,230.7L498.4,233.2L500.9,236.4L503.2,237.3L503.6,240.1L504.5,240.1L504.9,241.4L502.1,242.1L501.6,245.3L499.4,245.0Z"/><path fill="#7bccc4" d="M499.4,229.1L497.4,228.8L496.2,224.9L496.6,223.6L495.7,223.1L495.5,222.1L496.3,220.8L496.2,218.2L498.7,218.9L500.1,218.4L502.9,216.3L503.2,214.8L504.8,213.2L506.6,213.6L509.5,214.0L511.2,214.1L513.0,214.1L514.4,213.0L514.0,210.9L517.2,212.2L518.4,215.3L521.1,213.3L524.0,213.5L524.8,214.0L522.8,214.4L520.9,214.8L518.2,216.1L518.8,218.7L518.1,221.0L516.0,222.3L517.2,223.9L515.7,224.9L515.9,227.8L513.5,228.1L512.9,229.1L510.0,230.4L510.3,233.0L508.0,233.7L505.6,234.3L503.9,234.3L502.1,234.3L500.2,233.7L498.4,233.2L499.9,230.7Z"/><path fill="#7bccc4" d="M512.5,244.8L510.3,244.9L508.1,245.0L505.7,245.3L503.2,245.5L501.6,245.3L502.1,242.1L504.9,241.4L504.5,240.1L503.6,240.1L503.2,237.3L500.9,236.4L498.4,233.2L500.2,233.7L502.1,234.3L503.9,234.3L505.6,234.3L508.0,233.7L510.3,233.0L510.0,230.4L512.9,229.1L513.5,228.1L515.9,227.8L515.7,224.9L517.2,223.9L516.0,222.3L518.1,221.0L518.8,218.7L518.2,216.1L520.9,214.8L522.8,214.4L524.8,214.0L527.3,215.3L530.2,218.2L532.2,218.4L530.9,220.0L528.3,221.0L526.4,220.8L524.5,220.5L524.8,222.6L526.0,224.9L528.8,226.5L527.5,227.5L527.8,230.1L526.9,232.0L525.5,234.8L523.6,238.0L520.5,238.0L518.6,240.3L520.4,241.6L521.4,244.0L522.9,247.1L520.8,247.9L518.1,247.6L516.9,249.2L515.0,248.4L513.6,246.3Z"/><path fill="#2b8cbe" d="M614.0,262.2L612.1,263.5L610.2,262.5L609.8,260.4L611.4,259.1L613.8,258.6L614.9,259.9ZM621.6,208.0L622.0,205.4L622.1,204.9L619.3,204.4L617.6,207.2L616.3,208.3L615.0,209.3L617.6,211.9L619.5,213.7L622.2,212.4L624.6,213.0L626.9,213.5L627.3,214.8L625.6,215.9L623.8,217.1L622.5,219.7L625.7,221.8L628.2,224.9L631.3,227.8L632.1,229.6L630.5,232.0L633.5,233.0L633.8,236.7L632.4,238.0L631.0,241.9L631.1,243.2L629.6,246.3L628.6,247.1L626.1,250.2L624.4,251.0L622.6,251.8L621.0,252.8L619.4,253.1L616.2,254.1L613.1,255.7L613.3,258.1L611.9,258.1L611.2,254.9L608.4,254.4L607.4,254.9L604.9,253.9L603.8,251.3L600.7,250.2L599.6,251.5L597.7,252.3L594.4,251.8L593.8,252.6L593.3,255.7L591.9,254.8L592.1,255.7L589.5,254.9L587.3,253.4L587.6,251.0L585.5,248.1L582.9,248.7L582.6,245.8L584.4,243.5L584.0,241.4L583.5,239.3L579.9,237.3L577.8,236.9L576.8,234.3L575.2,235.2L573.1,234.8L570.7,236.7L567.7,238.5L564.7,237.7L562.8,237.5L561.8,239.8L561.1,237.7L559.7,238.2L556.9,238.0L554.9,238.0L552.6,236.4L550.1,234.8L547.4,233.8L544.8,232.0L542.6,232.2L539.4,230.4L537.0,229.6L537.3,226.2L535.7,224.4L535.4,221.5L532.2,218.4L530.2,218.2L527.3,215.3L524.8,214.0L524.0,213.5L524.0,210.6L521.4,210.4L520.5,208.1L522.0,205.4L524.0,204.9L525.9,204.4L527.4,203.7L528.8,203.1L530.4,202.3L532.0,201.4L531.2,199.2L532.2,198.5L531.0,196.4L529.8,194.3L531.7,193.7L533.6,193.1L533.2,190.6L532.7,188.2L535.3,188.3L537.9,188.5L536.8,185.2L538.0,184.1L539.1,183.1L540.1,183.1L543.7,185.9L546.4,187.4L549.1,189.0L550.2,191.1L551.3,193.3L554.0,193.7L556.8,194.1L559.1,194.9L561.4,195.6L563.3,197.6L565.3,199.6L568.4,199.7L571.5,199.8L574.6,199.9L577.9,200.8L581.3,201.7L584.7,202.6L587.4,201.9L590.0,201.2L592.7,200.5L594.6,198.8L596.4,197.2L594.4,195.4L596.5,194.9L598.5,194.5L600.3,193.3L602.1,192.0L603.6,189.7L606.0,189.6L608.4,189.5L608.0,188.5L603.9,186.4L602.0,186.9L600.0,186.7L598.0,186.4L597.5,184.1L597.2,181.5L600.0,182.4L601.1,179.6L600.9,177.2L600.5,174.8L598.8,174.1L599.6,172.8L601.8,172.5L604.0,172.2L606.6,172.9L609.2,173.6L612.5,176.2L615.7,178.9L618.9,181.6L621.8,182.7L624.7,183.8L627.6,184.9L629.6,186.9L632.6,186.9L634.3,186.0L635.9,185.2L636.6,188.2L637.4,190.9L638.2,193.6L635.2,193.1L634.4,194.3L637.1,197.7L637.4,200.5L635.5,200.5L634.1,201.0L632.7,201.5L630.5,202.1L629.9,204.4L628.8,205.7L627.6,207.0L625.8,208.1L623.9,209.3L623.2,209.6Z"/><path fill="#4eb3d3" d="M570.5,252.8L568.2,252.3L567.3,253.9L564.6,254.1L563.6,250.5L562.8,247.9L561.3,247.1L562.8,245.3L560.7,243.7L561.1,241.9L564.4,243.2L564.8,245.0L566.2,245.3L568.4,245.5L570.7,245.8L570.3,246.1L569.1,248.1L568.6,249.5L570.0,251.0L571.3,251.0L572.4,253.7L572.9,255.4L572.2,257.0L571.3,255.2Z"/><path fill="#7bccc4" d="M560.4,254.9L560.0,257.0L557.8,259.4L555.8,261.4L552.8,264.8L550.9,267.7L548.5,269.3L546.7,271.1L546.9,274.0L547.2,276.8L546.5,279.7L546.5,281.8L546.5,283.9L544.9,286.7L543.1,287.8L541.6,289.9L540.2,288.8L538.4,285.2L537.2,281.8L535.9,279.6L534.6,277.4L533.3,274.1L531.8,270.8L531.1,268.7L530.3,266.7L529.5,264.1L528.6,261.4L528.1,258.3L527.6,256.0L526.8,253.1L526.6,255.4L524.1,257.0L522.4,256.5L519.1,253.1L522.1,251.0L520.1,250.8L518.2,250.5L516.9,249.2L518.1,247.6L520.8,247.9L522.9,247.1L521.4,244.0L520.4,241.6L518.6,240.3L520.5,238.0L523.6,238.0L525.5,234.8L526.9,232.0L527.8,230.1L527.5,227.5L528.8,226.5L526.0,224.9L524.8,222.6L524.5,220.5L526.4,220.8L528.3,221.0L530.9,220.0L532.2,218.4L535.4,221.5L535.7,224.4L537.3,226.2L537.0,229.6L539.4,230.4L542.6,232.2L541.4,235.9L543.8,236.9L546.5,238.2L549.2,239.5L552.2,239.8L555.2,241.6L558.4,242.1L560.4,242.1L559.7,238.2L561.1,237.7L561.8,239.8L562.3,241.1L564.1,241.4L566.7,241.1L569.1,241.0L567.7,238.5L570.7,236.7L573.1,234.8L575.2,235.2L576.8,234.3L577.8,236.9L579.9,237.3L580.2,240.3L578.0,239.8L576.1,241.4L576.3,243.2L575.6,245.3L576.0,246.6L575.0,248.7L573.2,248.4L573.8,250.8L573.5,253.1L572.4,253.7L571.3,251.0L570.0,251.0L568.6,249.5L569.1,248.1L570.3,246.1L570.7,245.8L568.4,245.5L566.2,245.3L564.8,245.0L564.4,243.2L561.1,241.9L560.7,243.7L562.8,245.3L561.3,247.1L562.8,247.9L563.6,250.5L564.6,254.1L562.6,254.4Z"/><path fill="#7bccc4" d="M547.1,285.4L549.3,287.8L551.5,291.2L551.2,294.3L548.9,295.6L547.5,295.1L547.1,292.7L546.7,290.4L547.0,287.5Z"/><path fill="#a8ddb5" d="M470.7,198.7L470.0,197.4L467.7,194.9L469.2,195.1L469.7,193.1L472.8,193.1L472.5,190.2L471.8,189.2L469.7,189.0L467.7,189.0L464.9,190.0L464.3,190.2L462.7,189.5L458.9,186.2L457.6,185.2L458.1,183.1L457.2,181.4L458.9,181.4L460.6,181.4L460.6,179.6L462.3,178.2L463.9,176.8L465.7,177.1L467.4,177.3L469.6,177.8L473.1,179.6L474.9,179.0L476.7,178.3L478.3,178.5L479.9,178.6L482.3,179.6L484.1,179.3L485.9,179.1L485.4,178.3L482.1,176.3L483.0,173.8L483.0,172.3L482.0,171.2L484.4,170.9L486.9,170.6L489.3,170.2L491.2,169.7L493.0,169.2L494.8,168.6L497.1,168.3L499.5,167.9L501.1,170.6L503.6,170.9L506.2,171.1L507.2,172.1L509.5,171.3L511.7,170.6L512.3,170.1L515.6,172.8L519.1,176.0L522.6,179.1L524.8,178.9L527.0,178.8L529.2,178.6L531.9,180.3L534.6,182.1L536.9,182.6L539.1,183.1L538.0,184.1L536.8,185.2L537.9,188.5L535.3,188.3L532.7,188.2L533.2,190.6L533.6,193.1L531.7,193.7L529.8,194.3L531.0,196.4L532.2,198.5L531.2,199.2L532.0,201.4L529.2,199.5L526.9,199.3L524.5,199.1L521.9,199.5L518.6,198.5L517.1,199.0L517.7,200.5L515.7,200.0L513.8,199.5L512.3,200.3L512.4,200.9L511.4,201.3L509.1,203.4L507.4,204.6L508.8,205.2L506.6,204.5L504.4,203.7L503.0,201.4L501.7,199.0L498.6,197.2L495.7,197.4L492.7,197.7L490.2,195.4L487.1,193.9L484.0,192.4L481.6,193.1L479.2,193.8L480.1,197.0L480.9,200.2L481.7,203.4L480.5,203.4L478.9,201.5L477.1,200.8L474.6,201.9L473.5,200.0Z"/><path fill="#2b8cbe" d="M643.5,217.1L643.7,219.5L641.1,220.5L638.8,221.3L638.3,220.2L637.2,217.1L635.6,215.0L635.6,213.2L634.3,212.7L635.4,212.2L635.7,211.1L638.1,210.4L640.2,212.4L642.3,214.5Z"/><path fill="#7bccc4" d="M595.3,277.9L594.2,276.1L593.3,275.8L592.2,276.3L592.5,279.7L592.2,281.0L591.2,283.6L591.5,287.0L593.2,288.8L593.9,289.1L594.8,292.2L597.4,293.3L598.3,294.7L597.7,295.9L596.1,296.1L595.6,294.6L593.7,294.2L592.2,292.0L589.8,289.6L589.4,290.4L589.2,287.5L589.7,284.9L589.7,284.6L590.1,283.4L591.6,280.2L590.5,278.1L590.0,275.0L587.5,271.4L588.1,269.0L587.7,267.2L586.1,265.0L584.6,262.8L585.5,262.8L585.5,259.9L587.5,259.4L588.7,258.6L590.0,257.9L591.2,260.1L593.0,260.1L592.9,264.1L593.3,265.4L595.3,263.5L597.2,264.2L599.4,263.3L601.5,265.4L602.1,268.2L604.2,270.3L604.4,273.4L603.8,273.7L601.0,273.6L598.8,273.8L597.6,275.5L598.5,278.1L599.2,280.6L597.0,278.4Z"/><path fill="#7bccc4" d="M599.5,281.0L599.2,280.6L598.5,278.1L597.6,275.5L598.8,273.8L601.0,273.6L603.8,273.7L605.6,273.6L606.6,272.9L608.9,272.7L609.5,275.8L609.8,278.7L607.2,280.5L606.1,280.5L607.0,282.8L604.4,282.4L603.2,283.9L600.8,283.4Z"/><path fill="#4eb3d3" d="M603.3,260.7L603.5,262.2L605.5,264.6L607.4,266.7L610.0,269.0L611.9,271.1L613.0,275.0L613.8,277.6L613.6,280.0L612.8,281.5L611.1,282.7L609.4,283.9L608.3,285.2L605.3,288.6L604.2,288.6L604.4,284.9L603.2,283.9L604.4,282.4L607.0,282.8L606.1,280.5L607.2,280.5L609.8,278.7L609.5,275.8L608.9,272.7L608.4,270.3L605.8,266.7L602.1,263.0L602.1,261.7L599.3,259.6L600.1,257.8L598.4,256.8L595.8,254.7L593.8,252.6L594.4,251.8L597.7,252.3L599.6,251.5L600.7,250.2L603.8,251.3L604.9,253.9L607.4,254.9L604.9,256.8Z"/><path fill="#7bccc4" d="M402.1,168.9L403.9,167.9L404.5,168.0L407.1,168.5L407.5,168.9L407.7,170.2L405.6,170.2L403.6,170.2L401.5,170.1Z"/><path fill="#7bccc4" d="M652.5,182.9L653.4,186.2L656.2,189.2L658.1,191.3L655.0,189.7L652.3,187.4L649.7,183.6L647.0,180.5L644.3,177.3L642.3,175.1L640.2,172.8L639.3,170.4L643.6,173.6L645.9,176.1L648.1,178.6L650.3,180.7ZM417.7,153.4L418.9,151.5L420.1,149.6L418.5,148.7L416.8,147.8L417.7,146.9L415.7,145.2L415.9,143.2L413.5,140.5L414.6,138.7L411.6,136.9L412.0,135.7L413.6,134.7L414.7,134.0L416.7,134.0L419.5,135.1L421.6,135.2L423.8,135.3L425.7,136.2L427.7,137.1L430.1,137.9L432.4,138.7L434.3,140.7L432.7,142.0L431.1,142.3L429.4,142.5L426.7,142.0L424.0,141.6L422.1,141.1L420.3,140.7L419.2,140.0L421.5,142.0L424.3,144.1L424.8,145.9L426.5,146.5L428.2,147.1L430.9,147.3L429.5,145.7L427.4,144.6L430.2,145.2L432.1,145.5L433.9,145.7L434.9,145.9L433.2,143.6L434.6,142.6L436.0,141.6L437.9,141.9L439.7,142.3L439.7,141.4L437.3,138.0L436.5,136.7L438.4,136.9L440.3,137.1L442.6,138.4L442.5,140.5L443.9,140.5L445.4,140.5L446.0,138.7L448.2,137.8L450.6,137.3L452.9,136.9L454.9,137.5L457.2,137.1L459.5,136.7L461.0,136.3L462.5,136.0L464.8,135.6L464.0,134.0L466.5,134.5L468.9,134.9L471.4,135.3L474.7,136.7L477.6,137.3L479.5,137.8L479.3,136.0L477.2,135.2L475.0,134.5L473.2,131.4L474.3,129.3L474.6,127.4L476.0,127.1L477.3,126.8L480.0,127.6L481.5,130.4L484.1,133.6L485.0,135.8L487.8,137.5L488.2,140.1L489.7,139.1L488.7,136.2L487.0,134.4L485.4,132.5L483.6,130.4L483.8,128.0L487.2,129.3L488.0,128.2L490.7,128.7L492.1,127.4L496.1,129.3L498.5,131.4L498.5,130.4L495.2,128.2L491.9,126.1L493.4,125.6L495.0,125.1L496.5,124.6L497.9,124.1L498.3,122.8L499.9,122.5L501.5,122.1L503.0,121.8L504.6,121.4L506.4,121.2L508.2,121.0L510.0,120.8L511.8,120.6L513.5,120.3L515.2,120.0L516.4,119.2L517.6,118.5L518.7,117.7L521.6,118.4L524.5,119.0L526.8,119.2L529.1,119.4L531.3,119.6L533.9,120.1L536.5,120.6L538.9,123.1L537.6,123.7L536.4,124.4L535.1,125.1L534.3,125.8L533.6,126.6L535.5,126.1L537.4,125.7L539.6,125.6L541.9,125.5L543.7,125.7L545.5,125.9L548.4,126.4L551.3,126.8L554.2,127.2L555.6,126.8L557.0,126.5L558.4,126.1L560.3,126.1L562.1,126.1L564.0,126.1L567.3,127.2L570.7,128.2L573.8,130.4L576.1,131.1L578.4,131.9L579.1,131.1L579.8,130.4L582.3,130.4L584.7,130.4L587.1,130.4L589.6,130.4L588.3,128.2L588.4,127.4L590.6,127.7L592.8,128.0L595.7,128.3L598.6,128.7L601.5,129.2L604.5,129.8L607.5,130.4L610.0,131.0L612.5,131.6L615.0,131.7L617.4,131.8L619.8,131.9L622.2,132.0L624.6,132.1L629.4,134.2L631.7,134.7L633.8,134.6L635.9,134.5L638.1,134.5L639.9,134.0L641.7,133.6L645.0,134.7L648.3,135.8L646.5,134.0L648.4,133.9L650.3,133.8L653.2,134.0L656.0,134.2L659.0,134.8L662.1,135.3L665.1,135.8L669.7,138.7L674.2,141.7L678.6,144.8L676.9,145.1L675.2,145.5L682.4,148.7L686.2,151.0L683.8,150.8L681.4,150.6L679.8,151.4L678.2,152.2L677.6,153.2L677.0,154.1L677.3,156.5L677.2,156.7L674.2,156.4L671.2,156.1L668.1,155.8L666.9,156.3L665.6,156.7L666.9,158.9L668.7,161.8L671.5,163.7L674.4,165.7L675.8,169.1L675.9,171.1L675.9,173.1L673.9,173.6L674.9,176.1L674.9,178.8L672.4,176.8L669.8,174.8L666.3,171.7L662.7,168.6L660.7,166.2L658.6,163.7L657.8,161.3L658.2,159.5L658.4,157.7L658.9,156.5L659.3,155.3L658.6,152.5L659.0,150.6L658.2,151.8L657.4,152.9L656.9,154.8L652.9,152.2L650.6,152.6L648.3,152.9L649.3,155.3L650.1,157.7L648.8,158.2L647.5,158.7L644.9,158.2L642.4,157.7L640.4,157.8L638.4,157.9L635.7,158.1L633.1,158.2L630.9,158.2L628.8,158.2L628.1,159.5L627.4,160.7L626.7,162.0L626.2,163.5L625.7,165.0L627.1,168.6L625.7,169.0L624.3,169.4L626.8,170.2L629.3,171.1L632.7,171.6L633.7,170.6L636.5,171.7L639.2,172.8L638.3,173.6L641.6,175.6L642.5,177.3L644.5,181.1L647.0,184.9L647.1,188.7L647.0,190.0L646.4,192.2L645.8,194.3L644.8,197.7L643.4,198.7L641.9,199.7L639.2,198.7L637.9,200.0L637.7,200.8L637.4,200.5L637.1,197.7L634.4,194.3L635.2,193.1L638.2,193.6L637.4,190.9L636.6,188.2L635.9,185.2L634.3,186.0L632.6,186.9L629.6,186.9L627.6,184.9L624.7,183.8L621.8,182.7L618.9,181.6L615.7,178.9L612.5,176.2L609.2,173.6L606.6,172.9L604.0,172.2L601.8,172.5L599.6,172.8L598.8,174.1L600.5,174.8L600.9,177.2L601.1,179.6L600.0,182.4L597.2,181.5L594.2,181.0L591.2,180.6L589.6,181.5L587.9,182.4L586.2,183.3L582.9,182.3L579.5,181.4L577.3,180.9L575.1,180.3L573.0,180.6L570.8,180.9L567.1,179.6L566.0,177.8L563.5,177.2L560.9,176.5L558.3,175.8L557.3,176.1L559.5,179.8L558.5,181.7L556.0,181.4L553.6,181.1L551.3,179.6L548.9,179.3L546.5,179.1L544.8,180.2L543.1,181.4L541.6,182.2L540.1,183.1L539.1,183.1L536.9,182.6L534.6,182.1L531.9,180.3L529.2,178.6L527.0,178.8L524.8,178.9L522.6,179.1L519.1,176.0L515.6,172.8L512.3,170.1L511.7,170.6L509.5,171.3L507.2,172.1L506.2,171.1L503.6,170.9L501.1,170.6L499.5,167.9L497.1,168.3L494.8,168.6L493.0,169.2L491.2,169.7L489.3,170.2L486.9,170.6L484.4,170.9L482.0,171.2L483.0,172.3L483.0,173.8L482.1,176.3L485.4,178.3L485.9,179.1L484.1,179.3L482.3,179.6L479.9,178.6L478.3,178.5L476.7,178.3L474.9,179.0L473.1,179.6L469.6,177.8L467.4,177.3L465.7,177.1L463.9,176.8L462.3,178.2L460.6,179.6L460.6,181.4L458.9,181.4L457.2,181.4L458.1,183.1L457.6,185.2L458.9,186.2L462.7,189.5L464.3,190.2L462.1,191.3L461.3,192.3L460.6,193.8L460.3,195.1L462.2,196.9L462.8,199.0L465.0,201.3L465.8,201.9L464.5,203.6L461.1,201.8L459.3,200.3L457.6,199.7L455.3,199.7L452.3,198.5L449.6,198.2L447.0,197.9L446.2,197.4L444.0,196.0L441.8,194.6L439.3,193.3L439.4,192.8L440.7,192.0L441.5,191.0L442.3,189.5L443.7,188.5L442.8,188.2L441.5,188.5L442.9,187.4L444.3,186.4L444.2,184.3L444.0,182.1L441.8,181.7L439.6,181.4L436.4,180.3L434.6,180.1L431.3,177.8L430.0,175.2L428.1,175.5L426.2,175.8L424.8,173.3L427.0,172.8L423.4,169.4L422.7,167.2L419.8,166.7L417.2,165.8L416.0,163.0L415.1,162.4L415.6,161.5L414.6,159.6L415.8,157.9L415.4,157.7L417.3,157.2L419.2,156.7L416.1,154.8L414.5,155.2L416.1,154.3ZM654.9,131.0L656.2,130.4L658.4,131.6L657.1,131.9ZM453.3,121.4L455.3,121.0L457.3,120.6L459.3,120.2L461.1,119.9L463.0,119.6L464.8,119.3L466.6,119.0L467.0,120.4L465.1,120.9L463.2,121.4L461.3,121.9L459.3,122.4L457.9,123.3L456.4,124.2L454.8,125.1L454.2,126.7L453.5,128.2L455.7,130.0L457.9,131.9L455.9,132.1L454.0,132.3L451.0,131.2L449.0,130.5L447.0,129.7L447.9,126.8L449.0,125.2L450.1,123.7L451.7,122.5ZM590.7,123.5L588.5,123.4L586.3,123.3L584.2,123.3L582.1,123.5L580.1,123.7L577.3,122.8L574.5,122.0L575.9,121.6L577.3,121.2L578.7,120.8L581.3,121.2L583.9,121.5L586.5,121.8L589.5,122.2L592.5,122.6L591.6,123.1ZM501.4,114.9L499.0,114.3L496.5,113.7L494.1,113.1L495.5,112.5L496.9,111.9L498.3,111.4L500.2,111.6L502.2,111.8L504.1,112.0L507.2,113.8L505.8,114.0L504.3,114.3L502.9,114.6Z"/><path fill="#7bccc4" d="M64.7,137.3L65.6,138.4L66.5,139.6L68.0,140.0L69.5,140.5L69.8,141.4L70.0,142.3L65.9,143.6L60.1,145.9L58.4,146.2L57.1,145.7L55.8,145.2L54.3,144.4L52.8,143.6L54.6,141.8L51.2,143.0L54.8,140.5L58.4,138.1L62.1,135.8L63.4,136.6ZM72.1,131.6L70.4,131.6L68.8,131.6L71.0,130.4L72.4,130.7L73.8,131.0ZM518.5,116.7L516.7,116.8L514.9,116.8L513.1,116.9L511.3,116.9L507.0,114.7L509.2,114.8L511.3,115.0L513.5,115.1L515.7,115.2ZM448.2,111.9L450.3,112.7L448.3,112.8L446.3,113.0L444.2,113.1L442.2,113.2L440.3,113.2L438.5,113.1L436.7,113.0L434.8,112.9L436.4,112.6L437.9,112.3L439.5,112.0L441.0,111.7L442.8,111.7L444.6,111.8L446.4,111.8Z"/><path fill="#4eb3d3" d="M652.6,225.7L652.6,229.1L651.7,230.1L650.3,229.4L649.2,226.0L647.5,224.9L647.4,223.6L649.1,222.6L651.3,223.6ZM657.5,222.8L657.0,224.2L655.0,225.7L653.1,224.2L652.5,222.3L654.2,221.9L655.9,221.5ZM665.7,207.8L666.5,211.1L666.4,213.2L667.4,216.6L668.5,217.9L667.2,219.7L665.4,220.5L663.5,220.6L661.6,220.8L661.5,221.5L660.3,223.6L657.5,220.8L655.9,221.0L654.2,221.3L651.9,222.3L649.2,222.3L648.6,221.3L649.7,220.0L650.9,218.7L652.9,218.4L655.0,218.2L658.1,217.9L658.2,214.5L658.6,213.2L661.3,213.5L662.2,211.4L661.7,209.3L661.2,207.2L659.7,205.2L659.5,203.4L661.8,203.4L663.8,205.6ZM665.0,195.9L667.0,198.2L665.6,198.7L664.2,199.2L664.4,201.5L662.1,200.8L659.9,200.0L659.1,202.8L656.7,200.3L656.6,198.2L657.0,195.1L655.7,192.5L660.7,195.6L662.9,195.8Z"/><path fill="#4eb3d3" d="M654.2,294.0L652.4,294.8L652.0,296.4L649.2,294.8L648.5,291.7L647.1,291.2L644.2,293.0L644.1,290.7L646.0,288.8L647.9,289.9L649.9,288.8L650.4,287.0L651.4,285.4L653.6,288.8L653.9,291.4ZM632.7,289.1L632.9,288.0L634.4,285.8L635.9,283.6L637.3,281.3L638.0,283.6L635.1,287.0ZM646.1,287.3L644.6,285.7L645.2,282.8L643.3,283.6L642.9,280.0L645.7,281.0L646.5,284.1ZM651.3,282.1L650.2,284.4L649.3,281.8L648.5,281.0L648.0,278.4L650.3,278.7ZM640.5,279.2L639.4,277.1L638.7,275.8L641.1,276.1L641.6,278.4ZM640.6,269.8L641.1,271.9L641.5,274.0L644.5,274.7L647.5,278.1L645.5,277.1L643.7,275.5L640.8,275.5L639.0,274.0L639.5,272.7L637.6,272.1L636.4,268.7L637.7,268.7L637.0,265.4L637.2,262.8L639.0,262.8L640.8,262.8L642.2,266.7Z"/><path fill="#a8ddb5" d="M638.7,337.9L637.0,336.6L636.6,335.5L639.6,336.0L640.6,337.3ZM635.2,332.6L636.8,333.2L635.8,334.2L634.0,334.5L632.1,334.7L629.8,334.2L627.8,334.0L627.7,332.4L630.7,332.4L632.2,332.9ZM645.5,333.4L642.5,334.2L639.1,334.0L638.7,332.9L641.4,332.9L643.6,332.5L645.8,332.1ZM617.6,329.0L618.8,328.0L620.6,328.5L622.4,329.0L624.4,330.0L626.4,331.1L626.4,333.7L624.2,333.3L621.9,332.9L619.6,332.5L617.4,332.1L615.3,331.6L613.3,331.1L610.8,330.7L608.3,330.3L605.6,328.7L607.6,326.4L609.7,326.5L612.8,328.0L615.2,328.5ZM597.1,305.8L599.5,307.7L601.8,309.7L602.7,313.6L604.5,315.7L607.7,317.5L607.9,319.6L607.4,322.9L606.9,326.1L604.2,326.1L602.6,324.0L600.8,322.7L599.1,321.4L596.6,318.0L595.8,315.8L594.9,313.6L592.1,310.2L590.9,306.6L588.6,304.7L585.7,301.4L583.3,298.5L582.8,296.4L585.3,296.9L587.9,297.4L590.8,301.1L592.8,303.0L594.8,305.0ZM621.1,308.4L622.7,307.1L625.5,307.6L627.6,307.1L628.4,304.5L629.5,302.7L629.6,300.0L631.9,300.0L634.2,300.0L635.5,300.0L634.8,301.9L635.1,305.8L637.7,308.4L635.0,308.9L634.6,311.0L634.3,313.1L631.9,314.9L632.1,317.5L631.3,321.2L629.4,321.4L627.6,321.7L626.0,319.9L623.8,319.3L621.0,320.1L619.1,319.3L617.3,318.6L617.2,316.5L617.0,314.4L614.9,312.3L614.7,310.2L614.9,307.1L616.0,305.8L616.0,306.3L618.1,308.7ZM648.8,337.6L646.7,337.9L648.3,335.5L650.3,334.2L650.6,335.5ZM653.7,319.3L656.0,319.1L656.4,320.6L654.1,320.9ZM664.7,320.9L662.6,320.4L660.6,319.9L658.3,319.9L658.3,318.8L661.8,318.3L664.7,319.1ZM650.0,310.0L646.7,309.8L643.5,309.7L640.5,310.7L640.3,313.1L643.0,313.3L645.3,313.0L647.6,312.6L647.9,313.6L645.9,314.8L643.9,316.0L645.2,319.3L647.1,321.7L646.5,324.6L645.0,323.5L643.2,323.0L641.9,320.4L642.0,318.0L640.6,318.6L640.6,322.0L640.5,325.3L638.2,325.3L638.5,322.7L638.7,320.1L637.1,318.3L638.4,314.8L639.6,311.3L639.6,308.9L642.1,307.6L645.1,308.1L648.1,308.7L650.0,307.7L652.0,306.8ZM659.4,313.1L657.8,311.8L657.1,308.4L657.5,305.8L658.4,307.9L660.0,307.6L658.5,310.0Z"/><path fill="#a8ddb5" d="M668.6,312.0L670.4,312.6L672.3,313.1L672.5,315.3L672.6,317.5L675.1,319.6L677.1,317.8L679.1,316.0L682.6,315.7L685.4,316.7L688.3,317.8L688.1,321.2L688.0,324.6L687.7,328.0L687.5,331.3L687.2,334.7L684.7,332.1L682.8,332.5L680.9,332.9L680.0,330.3L682.6,329.8L682.5,327.2L680.8,324.8L678.6,323.8L676.3,322.7L674.2,322.0L672.0,321.2L669.2,321.4L669.3,319.6L671.9,317.3L669.7,317.8L667.5,318.3L666.0,314.9L665.4,313.1Z"/><path fill="#0868ac" d="M672.9,418.1L674.8,417.9L676.8,417.6L674.8,421.0L672.2,423.5L669.2,424.6L667.7,424.3L668.0,421.7L669.0,419.2L669.7,417.1L671.3,417.6ZM691.9,343.6L691.8,345.9L691.7,348.3L693.3,349.2L695.0,350.1L695.2,353.4L695.4,356.6L695.2,360.6L696.9,361.9L698.5,363.2L700.6,367.1L703.0,371.0L704.3,373.3L705.6,375.7L706.2,378.8L705.6,381.7L704.9,384.5L703.0,388.2L700.9,391.9L698.0,395.8L693.8,399.2L690.6,402.8L688.8,404.9L686.9,407.0L685.7,408.8L683.4,409.3L681.0,409.8L678.4,411.4L675.8,412.9L673.9,411.1L673.0,410.9L670.1,412.2L668.2,411.6L666.4,411.1L664.4,408.8L665.3,404.9L663.7,403.8L664.3,400.7L662.4,402.8L660.3,403.1L663.4,399.7L665.4,396.5L662.7,398.9L659.2,401.8L658.0,401.0L657.8,398.8L657.6,396.5L656.1,395.5L654.7,394.5L651.9,393.2L649.6,393.3L647.4,393.4L643.7,394.3L640.1,395.2L637.6,396.2L635.0,397.1L633.0,399.4L630.3,399.3L627.6,399.2L623.8,400.7L619.8,402.5L617.8,402.2L615.7,401.8L614.1,400.5L615.0,398.6L617.3,395.8L617.4,393.2L617.5,390.5L617.9,387.9L618.2,385.3L617.7,382.7L617.1,380.1L617.7,377.5L618.3,374.9L619.0,372.3L619.8,369.7L621.2,367.9L623.4,366.8L625.6,365.8L629.2,365.0L632.9,363.2L635.2,362.6L637.6,362.1L639.4,360.0L641.3,357.9L641.5,355.3L644.3,356.1L645.2,353.3L648.5,351.4L651.7,348.0L654.8,347.5L656.0,350.1L659.0,349.9L660.0,346.5L662.1,343.9L663.4,342.8L666.9,342.6L667.6,340.5L670.3,342.3L673.7,342.6L676.7,342.8L675.5,346.2L673.4,349.9L675.7,352.2L677.8,353.5L679.8,354.8L682.8,356.9L684.5,354.0L685.7,351.4L686.8,348.8L687.2,346.6L687.7,344.4L688.9,340.5L690.2,338.9L691.1,341.3Z"/><path fill="#a8ddb5" d="M352.1,217.4L354.1,219.2L357.1,218.9L358.8,219.5L359.9,221.0L359.7,223.6L361.0,226.2L359.1,226.9L357.2,227.5L355.4,229.6L355.4,230.4L352.5,232.8L349.2,233.8L346.7,235.0L344.3,236.1L344.2,238.8L341.0,238.8L337.8,238.8L334.6,238.8L334.7,238.8L334.9,238.2L336.9,237.1L339.0,235.9L341.4,234.1L342.4,231.7L342.0,229.1L343.4,226.8L345.2,225.1L347.0,223.4L348.8,222.3L350.1,219.5L350.8,217.6Z"/><path fill="#4eb3d3" d="M365.8,215.8L367.9,215.4L370.1,215.0L372.5,215.2L375.0,215.3L376.9,214.9L378.7,214.5L380.4,214.6L382.1,214.8L381.9,216.9L381.6,218.9L381.6,220.5L380.0,222.3L380.2,224.2L381.8,226.2L383.4,227.5L384.0,229.8L384.6,232.1L385.1,234.4L385.6,236.7L385.7,239.3L385.7,241.9L384.6,242.7L385.7,244.8L386.7,246.8L388.6,248.3L390.6,249.7L387.2,252.0L383.9,254.2L380.5,256.5L378.6,258.3L376.7,260.1L375.0,260.6L373.2,261.1L371.1,261.4L370.8,259.4L367.7,258.1L366.3,256.0L362.9,253.4L359.5,250.9L356.2,248.3L352.8,245.8L349.9,243.8L347.1,241.8L344.2,239.8L344.2,238.8L344.3,236.1L346.7,235.0L349.2,233.8L352.5,232.8L355.4,230.4L355.4,229.6L357.2,227.5L359.1,226.9L361.0,226.2L359.7,223.6L359.9,221.0L358.8,219.5L360.6,218.7L362.3,217.9L364.0,216.9Z"/><path fill="#a8ddb5" d="M427.6,230.7L429.5,229.6L431.8,228.6L434.7,229.4L436.8,229.4L438.9,229.4L439.9,231.7L440.9,234.1L440.7,236.7L440.0,238.8L438.0,236.7L435.7,233.0L435.9,234.6L437.4,237.5L439.0,240.1L440.8,243.7L442.1,246.1L443.3,248.4L444.0,248.7L445.4,251.1L446.8,253.6L443.5,253.6L440.1,253.6L436.7,253.6L433.4,253.6L430.0,253.6L426.7,253.6L423.3,253.6L420.0,253.6L419.8,249.8L419.7,246.0L419.5,242.2L419.2,238.4L419.0,234.6L418.2,232.2L418.8,228.6L421.1,228.8L423.5,229.1L425.5,229.9Z"/><path fill="#4eb3d3" d="M359.0,298.7L356.5,297.7L356.9,296.4L356.2,293.3L357.6,289.6L357.2,286.0L357.0,282.6L359.7,282.3L362.5,282.1L363.6,282.1L364.7,284.9L364.5,288.0L365.2,289.4L364.7,291.7L365.0,293.0L366.4,295.1L363.6,296.4L361.3,297.6Z"/><path fill="#7bccc4" d="M377.4,299.8L376.0,297.4L373.9,294.6L371.4,294.3L369.8,294.3L370.0,292.7L369.8,288.8L371.1,286.0L372.3,283.1L371.8,280.5L372.1,278.4L373.0,275.8L375.9,274.7L379.1,276.8L381.9,277.1L385.3,277.5L388.1,276.3L389.9,276.6L391.7,276.8L394.7,275.3L395.8,276.8L396.1,278.4L397.0,281.0L394.8,282.8L393.9,285.2L393.0,287.5L391.8,289.7L390.7,292.0L387.7,293.0L385.4,294.2L383.8,297.4L383.2,299.3L379.7,299.5Z"/><path fill="#a8ddb5" d="M385.9,300.6L384.3,300.6L383.2,299.3L383.8,297.4L385.4,294.2L387.7,293.0L390.7,292.0L391.8,289.7L393.0,287.5L393.9,285.2L394.8,282.8L397.0,281.0L396.1,278.4L397.7,279.2L398.7,282.3L399.1,284.9L396.2,284.9L395.7,286.0L398.5,289.1L399.0,290.9L397.2,294.3L397.0,297.2L398.1,300.0L399.4,302.5L400.7,305.0L400.7,306.6L398.8,306.0L397.0,305.4L394.2,305.3L391.9,305.3L389.6,305.3L386.2,305.0L386.4,303.2Z"/><path fill="#a8ddb5" d="M444.2,306.0L443.1,308.1L441.9,310.5L441.7,313.6L439.1,313.6L436.5,313.6L433.9,313.6L431.8,314.5L431.8,312.6L432.5,309.4L433.8,307.1L435.4,305.3L434.5,301.9L435.0,301.1L437.3,301.6L439.6,300.8L441.8,300.0L443.0,301.9L443.6,304.0Z"/><path fill="#7bccc4" d="M455.9,319.3L455.0,321.7L453.8,323.3L450.6,320.6L450.4,319.1L447.5,317.3L444.6,315.4L441.7,313.6L441.9,310.5L443.1,308.1L444.2,306.0L443.6,304.0L443.0,301.9L441.8,300.0L444.8,296.9L446.2,297.2L446.2,299.0L448.5,299.5L451.3,301.6L454.5,302.1L457.5,300.0L460.0,300.7L458.0,303.7L458.0,307.3L458.1,311.0L458.0,313.3L459.4,315.4L457.8,317.0Z"/><path fill="#4eb3d3" d="M434.5,315.4L434.5,317.0L433.8,317.3L432.5,317.1L431.8,318.6L430.4,318.3L430.6,317.0L431.1,315.2L431.8,314.5L433.6,313.9Z"/><path fill="#a8ddb5" d="M453.9,328.7L454.3,331.9L453.8,334.5L455.8,337.9L456.2,338.4L454.0,339.4L451.8,340.5L449.5,341.5L447.5,341.3L445.6,341.0L442.8,341.0L442.8,338.5L442.7,336.0L441.4,336.0L439.1,335.5L437.0,334.7L434.2,332.4L432.9,330.2L431.6,328.0L431.3,325.2L431.0,322.5L431.9,322.6L432.9,321.7L434.5,319.6L433.8,317.3L434.5,317.0L434.5,315.4L433.6,313.9L433.9,313.6L436.5,313.6L439.1,313.6L441.7,313.6L444.6,315.4L447.5,317.3L450.4,319.1L450.6,320.6L453.8,323.3L453.5,324.3L453.7,326.5Z"/><path fill="#7bccc4" d="M442.7,336.0L442.8,338.5L442.8,341.0L442.8,342.3L443.4,346.2L445.3,349.1L445.1,352.7L443.9,355.6L441.7,352.7L442.5,350.9L441.9,348.6L439.4,347.5L438.3,346.5L439.6,343.6L439.7,341.4L439.9,339.2L439.1,335.5L441.4,336.0Z"/><path fill="#7bccc4" d="M429.4,352.7L432.9,351.7L434.9,352.7L436.7,353.6L438.5,354.6L438.6,356.6L437.7,360.3L438.0,363.2L437.0,366.6L434.1,369.4L432.0,369.2L429.9,368.9L426.8,367.3L426.2,364.5L422.9,361.9L422.0,359.6L421.1,357.4L423.0,357.6L424.9,357.8L427.2,355.3Z"/><path fill="#4eb3d3" d="M426.2,364.5L426.8,367.3L429.9,368.9L427.3,369.9L424.3,372.5L421.7,375.4L418.9,378.3L417.0,377.6L415.1,377.0L412.8,379.6L410.0,380.9L409.2,378.3L408.5,375.7L408.6,372.0L408.7,368.4L411.0,368.4L411.1,365.2L411.2,361.9L411.3,358.7L414.0,358.5L416.7,358.2L419.2,357.7L421.1,357.4L422.0,359.6L422.9,361.9Z"/><path fill="#4eb3d3" d="M432.2,389.0L429.7,392.6L427.2,394.9L424.7,397.1L422.0,398.4L419.4,399.7L417.1,399.8L414.8,399.9L411.5,400.2L409.3,401.0L407.1,401.8L404.5,400.7L403.7,399.4L403.0,396.5L403.9,393.2L401.9,389.2L400.2,385.6L402.2,385.9L404.0,386.1L405.8,386.4L408.0,385.1L408.2,381.9L408.3,378.8L408.5,375.7L409.2,378.3L410.0,380.9L412.8,379.6L415.1,377.0L417.0,377.6L418.9,378.3L421.7,375.4L424.3,372.5L427.3,369.9L429.9,368.9L432.0,369.2L434.1,369.4L434.7,371.9L435.2,374.4L435.1,376.5L435.0,378.5L433.4,378.3L432.4,380.6L433.4,382.2L435.2,380.9L437.0,381.2L436.4,383.2L435.8,385.3ZM425.1,386.4L423.4,388.2L424.1,390.0L425.8,390.8L427.7,389.2L428.7,387.7L427.1,385.6Z"/></g>
<g>
<text x="151" y="494.5" text-anchor="middle">No data</text>
<line x1="151.4" x2="151.4" y1="498.8" y2="502" stroke="#8c8c8c" stroke-width="0.6"/>
<rect x="127.5" y="501.7" width="47.3" height="10.8" fill="url(#h)" stroke="#b8b8b8" stroke-width="0.7"/>
<rect x="195.3" y="501.7" width="58.5" height="10.8" fill="#f7fcf0" stroke="#c4c4c4" stroke-width="0.5"/><rect x="253.8" y="501.7" width="58.5" height="10.8" fill="#e0f3db" stroke="#c4c4c4" stroke-width="0.5"/><rect x="312.3" y="501.7" width="58.5" height="10.8" fill="#ccebc5" stroke="#c4c4c4" stroke-width="0.5"/><rect x="370.8" y="501.7" width="58.5" height="10.8" fill="#a8ddb5" stroke="#c4c4c4" stroke-width="0.5"/><rect x="429.3" y="501.7" width="58.5" height="10.8" fill="#7bccc4" stroke="#c4c4c4" stroke-width="0.5"/><rect x="487.8" y="501.7" width="58.5" height="10.8" fill="#4eb3d3" stroke="#c4c4c4" stroke-width="0.5"/><rect x="546.3" y="501.7" width="58.5" height="10.8" fill="#2b8cbe" stroke="#c4c4c4" stroke-width="0.5"/><rect x="604.8" y="501.7" width="58.5" height="10.8" fill="#0868ac" stroke="#c4c4c4" stroke-width="0.5"/><path d="M663.3,501.7 h53.5 l5,5.4 l-5,5.4 h-53.5 z" fill="#084081"/><line x1="195.3" x2="195.3" y1="498.3" y2="512.5" stroke="#8c8c8c" stroke-width="0.6"/><text x="195.3" y="494.5" text-anchor="middle">-1</text><line x1="253.8" x2="253.8" y1="498.3" y2="512.5" stroke="#8c8c8c" stroke-width="0.6"/><text x="253.8" y="494.5" text-anchor="middle">-1</text><line x1="312.3" x2="312.3" y1="498.3" y2="512.5" stroke="#8c8c8c" stroke-width="0.6"/><text x="312.3" y="494.5" text-anchor="middle">-0.75</text><line x1="370.8" x2="370.8" y1="498.3" y2="512.5" stroke="#8c8c8c" stroke-width="0.6"/><text x="370.8" y="494.5" text-anchor="middle">-0.5</text><line x1="429.3" x2="429.3" y1="498.3" y2="512.5" stroke="#8c8c8c" stroke-width="0.6"/><text x="429.3" y="494.5" text-anchor="middle">-0.25</text><line x1="487.8" x2="487.8" y1="498.3" y2="512.5" stroke="#8c8c8c" stroke-width="0.6"/><text x="487.8" y="494.5" text-anchor="middle">0</text><line x1="546.3" x2="546.3" y1="498.3" y2="512.5" stroke="#8c8c8c" stroke-width="0.6"/><text x="546.3" y="494.5" text-anchor="middle">0.25</text><line x1="604.8" x2="604.8" y1="498.3" y2="512.5" stroke="#8c8c8c" stroke-width="0.6"/><text x="604.8" y="494.5" text-anchor="middle">0.5</text><line x1="663.3" x2="663.3" y1="498.3" y2="512.5" stroke="#8c8c8c" stroke-width="0.6"/><text x="663.3" y="494.5" text-anchor="middle">0.75</text>
</g>
</svg>
<div class="ft" style="top:532.8px;letter-spacing:-0.155px"><b>Data source:</b> Falk, Becker, Dohmen, Enke, Huffman, and Sunde (2018) - Global Preferences Survey</div>
<div class="ft" style="top:553.2px;letter-spacing:0.076px"><b>Note:</b> Patience defined as "willingness to give up something that is beneficial for you today in order to benefit more from that in the future".</div>
<div class="ft" style="top:568.8px;letter-spacing:0.04px">Estimates come from combining quantitative and qualitative survey evidence. See source for more details.</div>
<div class="ft" style="top:532.8px;left:auto;right:18px;letter-spacing:0.18px">OurWorldinData.org/trust | CC BY</div>
</body></html>
